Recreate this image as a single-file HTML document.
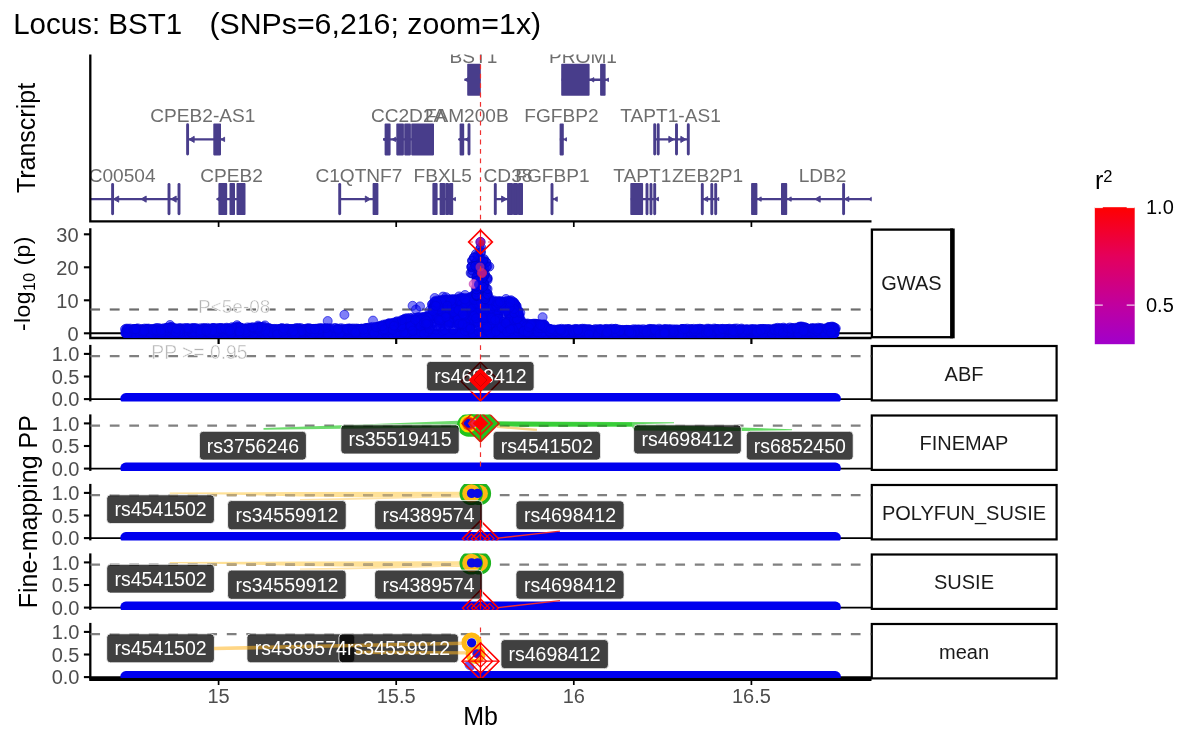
<!DOCTYPE html>
<html lang="en"><head><meta charset="utf-8"><title>Locus: BST1</title>
<style>html,body{margin:0;padding:0;background:#fff}svg{display:block;will-change:transform}text{font-family:"Liberation Sans",Arial,Helvetica,sans-serif}.tk{fill:#4d4d4d;font-size:20px}.at{fill:#000;font-size:25px}.st{fill:#1a1a1a;font-size:20px;text-anchor:middle}.gl{fill:#6e6e6e;font-size:19.1px;text-anchor:middle}.rl{fill:#fff;font-size:19.5px;text-anchor:middle}.an{fill:#b4b4b4;font-size:19px;stroke:#fff;stroke-width:.5px;paint-order:fill stroke}</style></head><body>
<svg width="1200" height="742" viewBox="0 0 1200 742">
<rect width="1200" height="742" fill="#fff"/>
<defs>
<clipPath id="cT"><rect x="90.3" y="54.5" width="781.2" height="167"/></clipPath>
<clipPath id="cG"><rect x="90.3" y="228" width="781.2" height="110.05"/></clipPath>
<linearGradient id="lg" x1="0" y1="0" x2="0" y2="1"><stop offset="0" stop-color="#ff0000"/><stop offset="0.36" stop-color="#e4005c"/><stop offset="0.715" stop-color="#c0009f"/><stop offset="1" stop-color="#a100cb"/></linearGradient>
</defs>
<text x="13.2" y="34.2" font-size="29.5" fill="#000" xml:space="preserve">Locus: BST1</text><text x="209.4" y="34.2" font-size="30.3" fill="#000">(SNPs=6,216; zoom=1x)</text>
<text class="at" transform="translate(34.5,138) rotate(-90)" text-anchor="middle">Transcript</text>
<text class="at" transform="translate(29.6,283.6) rotate(-90)" text-anchor="middle" style="font-size:22.9px;letter-spacing:.45px">-log<tspan font-size="16" dy="5.6">10</tspan><tspan dy="-5.6"> (p)</tspan></text>
<text class="at" transform="translate(37.3,511.7) rotate(-90)" text-anchor="middle">Fine-mapping PP</text>
<text class="at" x="480.5" y="724.5" text-anchor="middle">Mb</text>
<g clip-path="url(#cT)"><path d="M60.0 199.1H179.0" stroke="#483d8b" stroke-width="2.4" fill="none"/><path d="M112.6 184.5V213.7" stroke="#483d8b" stroke-width="2.9" stroke-linecap="round"/><path d="M169.0 184.5V213.7" stroke="#483d8b" stroke-width="2.9" stroke-linecap="round"/><path d="M179.0 184.5V213.7" stroke="#483d8b" stroke-width="2.9" stroke-linecap="round"/><path d="M118.7 196.0L113.5 199.1L118.7 202.2Z" fill="#483d8b" stroke="#483d8b" stroke-width="0.9" stroke-linejoin="round"/><path d="M146.2 196.0L141.0 199.1L146.2 202.2Z" fill="#483d8b" stroke="#483d8b" stroke-width="0.9" stroke-linejoin="round"/><path d="M176.2 196.0L171.0 199.1L176.2 202.2Z" fill="#483d8b" stroke="#483d8b" stroke-width="0.9" stroke-linejoin="round"/><text class="gl" x="107.3" y="181.8">LINC00504</text><path d="M217.6 199.1H244.4" stroke="#483d8b" stroke-width="2.4" fill="none"/><rect x="219.2" y="183.9" width="7.2" height="30.4" fill="#483d8b" stroke="#483d8b" stroke-width="1.6" stroke-linejoin="round"/><rect x="230.3" y="183.9" width="3.9" height="30.4" fill="#483d8b" stroke="#483d8b" stroke-width="1.6" stroke-linejoin="round"/><rect x="237.3" y="183.9" width="7.4" height="30.4" fill="#483d8b" stroke="#483d8b" stroke-width="1.6" stroke-linejoin="round"/><path d="M220.0 196.9L216.4 199.1L220.0 201.3Z" fill="#483d8b" stroke="#483d8b" stroke-width="0.9" stroke-linejoin="round"/><text class="gl" x="231.6" y="181.8">CPEB2</text><path d="M339.7 199.1H378.0" stroke="#483d8b" stroke-width="2.4" fill="none"/><path d="M339.7 184.5V213.7" stroke="#483d8b" stroke-width="2.9" stroke-linecap="round"/><rect x="373.4" y="183.9" width="4.2" height="30.4" fill="#483d8b" stroke="#483d8b" stroke-width="1.6" stroke-linejoin="round"/><path d="M365.3 196.0L370.5 199.1L365.3 202.2Z" fill="#483d8b" stroke="#483d8b" stroke-width="0.9" stroke-linejoin="round"/><text class="gl" x="358.9" y="181.8">C1QTNF7</text><path d="M433.0 199.1H453.6" stroke="#483d8b" stroke-width="2.4" fill="none"/><rect x="433.2" y="183.9" width="3.6" height="30.4" fill="#483d8b" stroke="#483d8b" stroke-width="1.6" stroke-linejoin="round"/><rect x="440.4" y="183.9" width="4.0" height="30.4" fill="#483d8b" stroke="#483d8b" stroke-width="1.6" stroke-linejoin="round"/><rect x="446.0" y="183.9" width="2.2" height="30.4" fill="#483d8b" stroke="#483d8b" stroke-width="1.6" stroke-linejoin="round"/><rect x="449.8" y="183.9" width="2.6" height="30.4" fill="#483d8b" stroke="#483d8b" stroke-width="1.6" stroke-linejoin="round"/><path d="M455.5 197.4L452.6 199.1L455.5 200.8Z" fill="#483d8b" stroke="#483d8b" stroke-width="0.9" stroke-linejoin="round"/><text class="gl" x="442.8" y="181.8">FBXL5</text><path d="M495.0 199.1H522.7" stroke="#483d8b" stroke-width="2.4" fill="none"/><path d="M495.3 184.5V213.7" stroke="#483d8b" stroke-width="2.9" stroke-linecap="round"/><rect x="507.9" y="183.9" width="4.3" height="30.4" fill="#483d8b" stroke="#483d8b" stroke-width="1.6" stroke-linejoin="round"/><rect x="513.8" y="183.9" width="3.4" height="30.4" fill="#483d8b" stroke="#483d8b" stroke-width="1.6" stroke-linejoin="round"/><rect x="518.8" y="183.9" width="3.4" height="30.4" fill="#483d8b" stroke="#483d8b" stroke-width="1.6" stroke-linejoin="round"/><path d="M501.6 196.0L506.8 199.1L501.6 202.2Z" fill="#483d8b" stroke="#483d8b" stroke-width="0.9" stroke-linejoin="round"/><text class="gl" x="508.0" y="181.8">CD38</text><path d="M551.5 199.1H554.0" stroke="#483d8b" stroke-width="2.4" fill="none"/><path d="M552.0 184.5V213.7" stroke="#483d8b" stroke-width="2.9" stroke-linecap="round"/><path d="M557.3 196.8L553.4 199.1L557.3 201.4Z" fill="#483d8b" stroke="#483d8b" stroke-width="0.9" stroke-linejoin="round"/><text class="gl" x="552.5" y="181.8">FGFBP1</text><path d="M630.7 199.1H655.5" stroke="#483d8b" stroke-width="2.4" fill="none"/><rect x="631.1" y="183.9" width="11.2" height="30.4" fill="#483d8b" stroke="#483d8b" stroke-width="1.6" stroke-linejoin="round"/><path d="M647.0 184.5V213.7" stroke="#483d8b" stroke-width="2.9" stroke-linecap="round"/><path d="M651.0 184.5V213.7" stroke="#483d8b" stroke-width="2.9" stroke-linecap="round"/><path d="M654.7 184.5V213.7" stroke="#483d8b" stroke-width="2.9" stroke-linecap="round"/><path d="M651.6 197.2L648.5 199.1L651.6 201.0Z" fill="#483d8b" stroke="#483d8b" stroke-width="0.9" stroke-linejoin="round"/><path d="M658.5 197.2L655.4 199.1L658.5 201.0Z" fill="#483d8b" stroke="#483d8b" stroke-width="0.9" stroke-linejoin="round"/><text class="gl" x="642.3" y="181.8">TAPT1</text><path d="M702.3 199.1H716.5" stroke="#483d8b" stroke-width="2.4" fill="none"/><path d="M702.3 184.5V213.7" stroke="#483d8b" stroke-width="2.9" stroke-linecap="round"/><path d="M711.8 184.5V213.7" stroke="#483d8b" stroke-width="2.9" stroke-linecap="round"/><path d="M715.7 184.5V213.7" stroke="#483d8b" stroke-width="2.9" stroke-linecap="round"/><path d="M707.7 196.6L703.5 199.1L707.7 201.6Z" fill="#483d8b" stroke="#483d8b" stroke-width="0.9" stroke-linejoin="round"/><path d="M718.8 197.5L716.2 199.1L718.8 200.7Z" fill="#483d8b" stroke="#483d8b" stroke-width="0.9" stroke-linejoin="round"/><text class="gl" x="707.6" y="181.8">ZEB2P1</text><path d="M751.5 199.1H900.0" stroke="#483d8b" stroke-width="2.4" fill="none"/><rect x="751.9" y="183.9" width="4.7" height="30.4" fill="#483d8b" stroke="#483d8b" stroke-width="1.6" stroke-linejoin="round"/><rect x="781.8" y="183.9" width="4.6" height="30.4" fill="#483d8b" stroke="#483d8b" stroke-width="1.6" stroke-linejoin="round"/><path d="M843.6 184.5V213.7" stroke="#483d8b" stroke-width="2.9" stroke-linecap="round"/><path d="M761.2 196.9L757.6 199.1L761.2 201.3Z" fill="#483d8b" stroke="#483d8b" stroke-width="0.9" stroke-linejoin="round"/><path d="M791.2 196.9L787.6 199.1L791.2 201.3Z" fill="#483d8b" stroke="#483d8b" stroke-width="0.9" stroke-linejoin="round"/><path d="M820.2 196.0L815.0 199.1L820.2 202.2Z" fill="#483d8b" stroke="#483d8b" stroke-width="0.9" stroke-linejoin="round"/><path d="M848.8 196.6L844.6 199.1L848.8 201.6Z" fill="#483d8b" stroke="#483d8b" stroke-width="0.9" stroke-linejoin="round"/><path d="M872.2 196.9L868.6 199.1L872.2 201.3Z" fill="#483d8b" stroke="#483d8b" stroke-width="0.9" stroke-linejoin="round"/><text class="gl" x="822.6" y="181.8">LDB2</text><path d="M187.6 139.4H222.0" stroke="#483d8b" stroke-width="2.4" fill="none"/><path d="M187.6 124.8V154.0" stroke="#483d8b" stroke-width="2.9" stroke-linecap="round"/><rect x="214.1" y="124.2" width="6.1" height="30.4" fill="#483d8b" stroke="#483d8b" stroke-width="1.6" stroke-linejoin="round"/><path d="M194.2 136.3L189.0 139.4L194.2 142.5Z" fill="#483d8b" stroke="#483d8b" stroke-width="0.9" stroke-linejoin="round"/><path d="M224.6 137.2L221.0 139.4L224.6 141.6Z" fill="#483d8b" stroke="#483d8b" stroke-width="0.9" stroke-linejoin="round"/><text class="gl" x="202.8" y="122.1">CPEB2-AS1</text><path d="M383.0 139.4H433.6" stroke="#483d8b" stroke-width="2.4" fill="none"/><rect x="385.4" y="124.2" width="4.4" height="30.4" fill="#483d8b" stroke="#483d8b" stroke-width="1.6" stroke-linejoin="round"/><rect x="397.1" y="124.2" width="6.0" height="30.4" fill="#483d8b" stroke="#483d8b" stroke-width="1.6" stroke-linejoin="round"/><rect x="405.0" y="124.2" width="5.1" height="30.4" fill="#483d8b" stroke="#483d8b" stroke-width="1.6" stroke-linejoin="round"/><rect x="412.0" y="124.2" width="21.2" height="30.4" fill="#483d8b" stroke="#483d8b" stroke-width="1.6" stroke-linejoin="round"/><path d="M386.6 137.2L383.0 139.4L386.6 141.6Z" fill="#483d8b" stroke="#483d8b" stroke-width="0.9" stroke-linejoin="round"/><path d="M395.6 137.2L392.0 139.4L395.6 141.6Z" fill="#483d8b" stroke="#483d8b" stroke-width="0.9" stroke-linejoin="round"/><text class="gl" x="408.6" y="122.1">CC2D2A</text><path d="M458.5 139.4H469.0" stroke="#483d8b" stroke-width="2.4" fill="none"/><rect x="460.4" y="124.2" width="3.0" height="30.4" fill="#483d8b" stroke="#483d8b" stroke-width="1.6" stroke-linejoin="round"/><path d="M469.0 124.8V154.0" stroke="#483d8b" stroke-width="2.9" stroke-linecap="round"/><path d="M462.0 137.2L458.4 139.4L462.0 141.6Z" fill="#483d8b" stroke="#483d8b" stroke-width="0.9" stroke-linejoin="round"/><path d="M469.2 136.9L465.0 139.4L469.2 141.9Z" fill="#483d8b" stroke="#483d8b" stroke-width="0.9" stroke-linejoin="round"/><text class="gl" x="466.8" y="122.1">FAM200B</text><path d="M559.8 139.4H564.0" stroke="#483d8b" stroke-width="2.4" fill="none"/><rect x="560.4" y="124.2" width="2.6" height="30.4" fill="#483d8b" stroke="#483d8b" stroke-width="1.6" stroke-linejoin="round"/><path d="M566.5 137.7L563.6 139.4L566.5 141.1Z" fill="#483d8b" stroke="#483d8b" stroke-width="0.9" stroke-linejoin="round"/><text class="gl" x="561.5" y="122.1">FGFBP2</text><path d="M654.7 139.4H688.3" stroke="#483d8b" stroke-width="2.4" fill="none"/><path d="M654.7 124.8V154.0" stroke="#483d8b" stroke-width="2.9" stroke-linecap="round"/><path d="M658.2 124.8V154.0" stroke="#483d8b" stroke-width="2.9" stroke-linecap="round"/><path d="M676.5 124.8V154.0" stroke="#483d8b" stroke-width="2.9" stroke-linecap="round"/><path d="M688.3 124.8V154.0" stroke="#483d8b" stroke-width="2.9" stroke-linecap="round"/><path d="M668.8 136.3L674.0 139.4L668.8 142.5Z" fill="#483d8b" stroke="#483d8b" stroke-width="0.9" stroke-linejoin="round"/><path d="M680.8 136.3L686.0 139.4L680.8 142.5Z" fill="#483d8b" stroke="#483d8b" stroke-width="0.9" stroke-linejoin="round"/><text class="gl" x="670.6" y="122.1">TAPT1-AS1</text><path d="M464.5 79.8H480.4" stroke="#483d8b" stroke-width="2.4" fill="none"/><rect x="468.0" y="64.6" width="12.0" height="30.4" fill="#483d8b" stroke="#483d8b" stroke-width="1.6" stroke-linejoin="round"/><path d="M468.2 77.6L464.6 79.8L468.2 82.0Z" fill="#483d8b" stroke="#483d8b" stroke-width="0.9" stroke-linejoin="round"/><text class="gl" x="473.5" y="62.5">BST1</text><path d="M561.6 79.8H606.5" stroke="#483d8b" stroke-width="2.4" fill="none"/><rect x="562.0" y="64.6" width="26.8" height="30.4" fill="#483d8b" stroke="#483d8b" stroke-width="1.6" stroke-linejoin="round"/><rect x="600.9" y="64.6" width="3.9" height="30.4" fill="#483d8b" stroke="#483d8b" stroke-width="1.6" stroke-linejoin="round"/><path d="M593.8 77.6L590.2 79.8L593.8 82.0Z" fill="#483d8b" stroke="#483d8b" stroke-width="0.9" stroke-linejoin="round"/><path d="M608.5 78.1L605.6 79.8L608.5 81.5Z" fill="#483d8b" stroke="#483d8b" stroke-width="0.9" stroke-linejoin="round"/><text class="gl" x="583.0" y="62.5">PROM1</text></g>
<path d="M90.3 54.5V222.5M89.2 221.4H871.5" stroke="#000" stroke-width="2.3" fill="none"/>
<path d="M218.6 221.5v5.6M396.2 221.5v5.6M573.8 221.5v5.6M751.4 221.5v5.6" stroke="#000" stroke-width="1.7"/>
<path d="M90.3 228.2V339.1M89.2 338H871.5" stroke="#000" stroke-width="2.3" fill="none"/>
<path d="M218.6 338.5v5.4M396.2 338.5v5.4M573.8 338.5v5.4M751.4 338.5v5.4" stroke="#000" stroke-width="2.2"/>
<g clip-path="url(#cG)">
<path d="M90.3 333.3H871.5" stroke="#000" stroke-width="2"/>
<path d="M90.3 309.5H871.5" stroke="#808080" stroke-width="2.2" stroke-dasharray="9.75 9.75"/>
<path d="M126 333.5H835" stroke="#0000ee" stroke-width="9" stroke-linecap="round"/>
<g fill="#0000f0" fill-opacity=".5" stroke="#0000e0" stroke-opacity=".6" stroke-width="1"><circle cx="416.0" cy="309.5" r="4.5"/><circle cx="691.2" cy="330.7" r="4.5"/><circle cx="707.3" cy="331.7" r="4.5"/><circle cx="534.2" cy="324.7" r="4.5"/><circle cx="449.4" cy="302.4" r="4.5"/><circle cx="378.4" cy="326.6" r="4.5"/><circle cx="321.4" cy="332.7" r="4.5"/><circle cx="814.2" cy="330.5" r="4.5"/><circle cx="379.4" cy="330.3" r="4.5"/><circle cx="432.3" cy="329.3" r="4.5"/><circle cx="460.1" cy="304.8" r="4.5"/><circle cx="444.8" cy="314.3" r="4.5"/><circle cx="257.1" cy="327.8" r="4.5"/><circle cx="500.3" cy="326.6" r="4.5"/><circle cx="483.3" cy="301.7" r="4.5"/><circle cx="327.8" cy="331.7" r="4.5"/><circle cx="492.3" cy="301.4" r="4.5"/><circle cx="360.8" cy="329.7" r="4.5"/><circle cx="437.1" cy="312.3" r="4.5"/><circle cx="244.5" cy="332.5" r="4.5"/><circle cx="510.0" cy="307.9" r="4.5"/><circle cx="284.5" cy="328.9" r="4.5"/><circle cx="433.9" cy="315.7" r="4.5"/><circle cx="437.8" cy="305.4" r="4.5"/><circle cx="638.4" cy="334.2" r="4.5"/><circle cx="769.5" cy="329.2" r="4.5"/><circle cx="146.8" cy="330.5" r="4.5"/><circle cx="665.7" cy="329.0" r="4.5"/><circle cx="362.2" cy="329.3" r="4.5"/><circle cx="501.7" cy="302.9" r="4.5"/><circle cx="488.3" cy="307.4" r="4.5"/><circle cx="523.9" cy="325.3" r="4.5"/><circle cx="734.9" cy="328.6" r="4.5"/><circle cx="805.2" cy="327.3" r="4.5"/><circle cx="597.1" cy="329.4" r="4.5"/><circle cx="463.0" cy="300.7" r="4.5"/><circle cx="417.8" cy="317.9" r="4.5"/><circle cx="622.8" cy="330.2" r="4.5"/><circle cx="526.5" cy="327.0" r="4.5"/><circle cx="460.0" cy="305.8" r="4.5"/><circle cx="500.1" cy="320.2" r="4.5"/><circle cx="452.0" cy="302.7" r="4.5"/><circle cx="540.9" cy="325.2" r="4.5"/><circle cx="506.9" cy="300.9" r="4.5"/><circle cx="349.3" cy="329.1" r="4.5"/><circle cx="455.0" cy="303.1" r="4.5"/><circle cx="518.9" cy="315.1" r="4.5"/><circle cx="526.6" cy="324.0" r="4.5"/><circle cx="828.8" cy="327.8" r="4.5"/><circle cx="462.3" cy="322.2" r="4.5"/><circle cx="618.3" cy="332.5" r="4.5"/><circle cx="291.3" cy="329.1" r="4.5"/><circle cx="385.4" cy="329.7" r="4.5"/><circle cx="835.8" cy="328.3" r="4.5"/><circle cx="452.1" cy="317.3" r="4.5"/><circle cx="539.5" cy="329.7" r="4.5"/><circle cx="574.2" cy="333.5" r="4.5"/><circle cx="462.9" cy="319.0" r="4.5"/><circle cx="479.3" cy="324.7" r="4.5"/><circle cx="702.4" cy="331.5" r="4.5"/><circle cx="278.4" cy="332.4" r="4.5"/><circle cx="575.6" cy="330.7" r="4.5"/><circle cx="166.4" cy="327.8" r="4.5"/><circle cx="370.5" cy="329.1" r="4.5"/><circle cx="444.3" cy="317.1" r="4.5"/><circle cx="770.0" cy="330.6" r="4.5"/><circle cx="476.8" cy="322.4" r="4.5"/><circle cx="492.2" cy="323.0" r="4.5"/><circle cx="600.9" cy="331.3" r="4.5"/><circle cx="399.3" cy="331.8" r="4.5"/><circle cx="200.4" cy="328.2" r="4.5"/><circle cx="472.8" cy="316.6" r="4.5"/><circle cx="629.6" cy="331.0" r="4.5"/><circle cx="714.6" cy="330.6" r="4.5"/><circle cx="404.4" cy="319.3" r="4.5"/><circle cx="530.8" cy="330.4" r="4.5"/><circle cx="651.5" cy="329.1" r="4.5"/><circle cx="207.4" cy="327.9" r="4.5"/><circle cx="505.3" cy="302.0" r="4.5"/><circle cx="557.1" cy="330.5" r="4.5"/><circle cx="518.5" cy="314.3" r="4.5"/><circle cx="570.1" cy="333.5" r="4.5"/><circle cx="197.7" cy="329.0" r="4.5"/><circle cx="611.8" cy="331.9" r="4.5"/><circle cx="523.5" cy="328.4" r="4.5"/><circle cx="515.7" cy="304.8" r="4.5"/><circle cx="512.5" cy="323.7" r="4.5"/><circle cx="467.9" cy="331.7" r="4.5"/><circle cx="480.8" cy="329.1" r="4.5"/><circle cx="538.5" cy="324.2" r="4.5"/><circle cx="640.3" cy="332.2" r="4.5"/><circle cx="504.1" cy="328.0" r="4.5"/><circle cx="616.1" cy="334.8" r="4.5"/><circle cx="541.4" cy="329.7" r="4.5"/><circle cx="767.2" cy="333.8" r="4.5"/><circle cx="813.6" cy="329.1" r="4.5"/><circle cx="212.0" cy="330.2" r="4.5"/><circle cx="493.5" cy="313.8" r="4.5"/><circle cx="477.9" cy="297.3" r="4.5"/><circle cx="367.8" cy="327.8" r="4.5"/><circle cx="717.5" cy="329.3" r="4.5"/><circle cx="622.8" cy="332.3" r="4.5"/><circle cx="494.8" cy="304.4" r="4.5"/><circle cx="676.0" cy="333.4" r="4.5"/><circle cx="280.1" cy="330.1" r="4.5"/><circle cx="812.1" cy="328.1" r="4.5"/><circle cx="598.8" cy="334.2" r="4.5"/><circle cx="550.3" cy="333.3" r="4.5"/><circle cx="419.5" cy="317.3" r="4.5"/><circle cx="678.3" cy="331.6" r="4.5"/><circle cx="168.1" cy="329.0" r="4.5"/><circle cx="812.2" cy="328.8" r="4.5"/><circle cx="475.4" cy="307.1" r="4.5"/><circle cx="595.4" cy="331.0" r="4.5"/><circle cx="700.5" cy="332.0" r="4.5"/><circle cx="810.7" cy="330.5" r="4.5"/><circle cx="487.3" cy="319.5" r="4.5"/><circle cx="223.4" cy="328.9" r="4.5"/><circle cx="550.8" cy="330.0" r="4.5"/><circle cx="485.9" cy="327.8" r="4.5"/><circle cx="434.7" cy="307.6" r="4.5"/><circle cx="436.7" cy="306.2" r="4.5"/><circle cx="348.0" cy="330.0" r="4.5"/><circle cx="410.5" cy="321.5" r="4.5"/><circle cx="641.7" cy="331.6" r="4.5"/><circle cx="800.0" cy="332.0" r="4.5"/><circle cx="536.4" cy="324.1" r="4.5"/><circle cx="515.9" cy="307.6" r="4.5"/><circle cx="446.2" cy="299.3" r="4.5"/><circle cx="436.3" cy="306.5" r="4.5"/><circle cx="238.2" cy="330.7" r="4.5"/><circle cx="802.4" cy="332.7" r="4.5"/><circle cx="662.2" cy="330.0" r="4.5"/><circle cx="500.2" cy="311.0" r="4.5"/><circle cx="547.6" cy="330.3" r="4.5"/><circle cx="492.3" cy="313.2" r="4.5"/><circle cx="599.8" cy="330.7" r="4.5"/><circle cx="217.2" cy="333.0" r="4.5"/><circle cx="274.6" cy="328.9" r="4.5"/><circle cx="409.2" cy="321.5" r="4.5"/><circle cx="437.4" cy="326.2" r="4.5"/><circle cx="302.2" cy="331.3" r="4.5"/><circle cx="281.7" cy="331.7" r="4.5"/><circle cx="151.6" cy="329.5" r="4.5"/><circle cx="383.7" cy="326.2" r="4.5"/><circle cx="176.7" cy="329.9" r="4.5"/><circle cx="329.0" cy="329.3" r="4.5"/><circle cx="325.6" cy="331.3" r="4.5"/><circle cx="494.9" cy="316.7" r="4.5"/><circle cx="460.2" cy="310.9" r="4.5"/><circle cx="443.0" cy="296.6" r="4.5"/><circle cx="280.2" cy="330.7" r="4.5"/><circle cx="189.8" cy="331.7" r="4.5"/><circle cx="448.9" cy="320.9" r="4.5"/><circle cx="803.2" cy="329.5" r="4.5"/><circle cx="433.2" cy="317.1" r="4.5"/><circle cx="287.3" cy="330.6" r="4.5"/><circle cx="194.7" cy="330.2" r="4.5"/><circle cx="286.6" cy="330.4" r="4.5"/><circle cx="466.8" cy="298.1" r="4.5"/><circle cx="603.8" cy="332.2" r="4.5"/><circle cx="128.7" cy="332.5" r="4.5"/><circle cx="192.1" cy="328.8" r="4.5"/><circle cx="579.5" cy="334.3" r="4.5"/><circle cx="828.7" cy="328.1" r="4.5"/><circle cx="634.7" cy="331.3" r="4.5"/><circle cx="427.1" cy="325.0" r="4.5"/><circle cx="642.8" cy="332.8" r="4.5"/><circle cx="704.5" cy="333.3" r="4.5"/><circle cx="216.1" cy="328.5" r="4.5"/><circle cx="682.4" cy="329.1" r="4.5"/><circle cx="449.7" cy="317.3" r="4.5"/><circle cx="783.7" cy="330.0" r="4.5"/><circle cx="502.6" cy="328.3" r="4.5"/><circle cx="257.1" cy="330.7" r="4.5"/><circle cx="313.2" cy="328.9" r="4.5"/><circle cx="389.5" cy="326.6" r="4.5"/><circle cx="647.9" cy="332.3" r="4.5"/><circle cx="212.3" cy="329.8" r="4.5"/><circle cx="433.9" cy="318.1" r="4.5"/><circle cx="319.7" cy="329.8" r="4.5"/><circle cx="432.3" cy="314.4" r="4.5"/><circle cx="126.6" cy="329.6" r="4.5"/><circle cx="239.9" cy="328.9" r="4.5"/><circle cx="516.8" cy="316.8" r="4.5"/><circle cx="365.5" cy="329.4" r="4.5"/><circle cx="210.6" cy="330.7" r="4.5"/><circle cx="260.7" cy="327.5" r="4.5"/><circle cx="511.1" cy="303.1" r="4.5"/><circle cx="203.6" cy="332.3" r="4.5"/><circle cx="233.1" cy="329.3" r="4.5"/><circle cx="399.4" cy="321.4" r="4.5"/><circle cx="316.2" cy="333.3" r="4.5"/><circle cx="665.0" cy="329.6" r="4.5"/><circle cx="751.0" cy="330.0" r="4.5"/><circle cx="272.2" cy="329.1" r="4.5"/><circle cx="483.4" cy="302.6" r="4.5"/><circle cx="525.4" cy="328.2" r="4.5"/><circle cx="476.1" cy="299.2" r="4.5"/><circle cx="471.9" cy="332.6" r="4.5"/><circle cx="604.5" cy="331.2" r="4.5"/><circle cx="247.9" cy="328.9" r="4.5"/><circle cx="750.1" cy="334.2" r="4.5"/><circle cx="406.5" cy="320.0" r="4.5"/><circle cx="181.3" cy="328.4" r="4.5"/><circle cx="834.6" cy="329.2" r="4.5"/><circle cx="816.8" cy="330.0" r="4.5"/><circle cx="492.9" cy="307.2" r="4.5"/><circle cx="722.2" cy="329.4" r="4.5"/><circle cx="179.9" cy="328.6" r="4.5"/><circle cx="270.2" cy="328.6" r="4.5"/><circle cx="235.8" cy="331.9" r="4.5"/><circle cx="510.4" cy="308.9" r="4.5"/><circle cx="375.5" cy="327.4" r="4.5"/><circle cx="480.5" cy="295.9" r="4.5"/><circle cx="536.9" cy="328.2" r="4.5"/><circle cx="780.3" cy="328.6" r="4.5"/><circle cx="531.2" cy="333.6" r="4.5"/><circle cx="687.2" cy="330.3" r="4.5"/><circle cx="450.2" cy="315.6" r="4.5"/><circle cx="423.9" cy="319.8" r="4.5"/><circle cx="773.8" cy="331.2" r="4.5"/><circle cx="263.5" cy="326.6" r="4.5"/><circle cx="311.5" cy="330.6" r="4.5"/><circle cx="361.7" cy="329.9" r="4.5"/><circle cx="310.4" cy="328.6" r="4.5"/><circle cx="189.6" cy="332.3" r="4.5"/><circle cx="187.7" cy="328.5" r="4.5"/><circle cx="676.9" cy="331.9" r="4.5"/><circle cx="674.5" cy="330.5" r="4.5"/><circle cx="518.4" cy="312.5" r="4.5"/><circle cx="224.9" cy="332.7" r="4.5"/><circle cx="235.5" cy="327.2" r="4.5"/><circle cx="412.0" cy="319.6" r="4.5"/><circle cx="812.1" cy="332.6" r="4.5"/><circle cx="577.7" cy="333.4" r="4.5"/><circle cx="732.3" cy="329.4" r="4.5"/><circle cx="503.4" cy="313.6" r="4.5"/><circle cx="771.9" cy="330.4" r="4.5"/><circle cx="634.6" cy="333.9" r="4.5"/><circle cx="553.0" cy="330.6" r="4.5"/><circle cx="609.6" cy="329.0" r="4.5"/><circle cx="509.0" cy="320.0" r="4.5"/><circle cx="146.8" cy="329.0" r="4.5"/><circle cx="497.9" cy="314.1" r="4.5"/><circle cx="540.9" cy="328.7" r="4.5"/><circle cx="425.4" cy="317.4" r="4.5"/><circle cx="515.4" cy="312.2" r="4.5"/><circle cx="824.7" cy="333.0" r="4.5"/><circle cx="201.0" cy="332.1" r="4.5"/><circle cx="318.8" cy="330.0" r="4.5"/><circle cx="484.6" cy="316.4" r="4.5"/><circle cx="506.9" cy="302.5" r="4.5"/><circle cx="442.5" cy="324.3" r="4.5"/><circle cx="452.1" cy="306.2" r="4.5"/><circle cx="125.8" cy="331.4" r="4.5"/><circle cx="709.4" cy="331.9" r="4.5"/><circle cx="203.3" cy="328.0" r="4.5"/><circle cx="510.4" cy="323.0" r="4.5"/><circle cx="432.4" cy="304.0" r="4.5"/><circle cx="428.6" cy="317.3" r="4.5"/><circle cx="716.0" cy="330.4" r="4.5"/><circle cx="810.6" cy="328.8" r="4.5"/><circle cx="447.5" cy="305.9" r="4.5"/><circle cx="386.4" cy="327.9" r="4.5"/><circle cx="519.5" cy="317.1" r="4.5"/><circle cx="594.1" cy="331.5" r="4.5"/><circle cx="337.6" cy="332.1" r="4.5"/><circle cx="783.6" cy="332.0" r="4.5"/><circle cx="696.2" cy="332.8" r="4.5"/><circle cx="784.7" cy="330.5" r="4.5"/><circle cx="559.8" cy="330.7" r="4.5"/><circle cx="340.7" cy="328.2" r="4.5"/><circle cx="325.2" cy="330.1" r="4.5"/><circle cx="157.3" cy="333.0" r="4.5"/><circle cx="445.1" cy="324.1" r="4.5"/><circle cx="230.9" cy="332.4" r="4.5"/><circle cx="537.4" cy="324.5" r="4.5"/><circle cx="495.1" cy="305.7" r="4.5"/><circle cx="213.1" cy="330.3" r="4.5"/><circle cx="432.8" cy="309.3" r="4.5"/><circle cx="318.2" cy="328.6" r="4.5"/><circle cx="538.4" cy="325.5" r="4.5"/><circle cx="209.1" cy="331.6" r="4.5"/><circle cx="829.3" cy="332.8" r="4.5"/><circle cx="646.5" cy="331.0" r="4.5"/><circle cx="264.9" cy="331.4" r="4.5"/><circle cx="603.5" cy="333.6" r="4.5"/><circle cx="414.4" cy="325.9" r="4.5"/><circle cx="338.4" cy="330.8" r="4.5"/><circle cx="465.7" cy="301.6" r="4.5"/><circle cx="543.3" cy="324.9" r="4.5"/><circle cx="462.5" cy="307.5" r="4.5"/><circle cx="565.2" cy="332.5" r="4.5"/><circle cx="575.8" cy="328.9" r="4.5"/><circle cx="203.5" cy="334.0" r="4.5"/><circle cx="232.3" cy="328.7" r="4.5"/><circle cx="762.1" cy="329.5" r="4.5"/><circle cx="451.6" cy="310.5" r="4.5"/><circle cx="453.3" cy="320.3" r="4.5"/><circle cx="267.9" cy="329.6" r="4.5"/><circle cx="480.9" cy="295.2" r="4.5"/><circle cx="171.5" cy="333.0" r="4.5"/><circle cx="494.6" cy="320.2" r="4.5"/><circle cx="521.7" cy="322.0" r="4.5"/><circle cx="473.1" cy="312.7" r="4.5"/><circle cx="381.3" cy="330.5" r="4.5"/><circle cx="646.0" cy="330.1" r="4.5"/><circle cx="645.9" cy="329.9" r="4.5"/><circle cx="583.2" cy="331.5" r="4.5"/><circle cx="675.4" cy="330.1" r="4.5"/><circle cx="815.3" cy="328.3" r="4.5"/><circle cx="439.3" cy="308.1" r="4.5"/><circle cx="371.9" cy="332.5" r="4.5"/><circle cx="564.1" cy="329.8" r="4.5"/><circle cx="467.6" cy="303.8" r="4.5"/><circle cx="471.5" cy="296.5" r="4.5"/><circle cx="473.7" cy="314.3" r="4.5"/><circle cx="356.3" cy="328.4" r="4.5"/><circle cx="794.9" cy="331.7" r="4.5"/><circle cx="426.2" cy="325.8" r="4.5"/><circle cx="207.2" cy="332.6" r="4.5"/><circle cx="216.7" cy="330.8" r="4.5"/><circle cx="668.6" cy="331.4" r="4.5"/><circle cx="230.9" cy="334.3" r="4.5"/><circle cx="543.6" cy="328.4" r="4.5"/><circle cx="625.1" cy="329.9" r="4.5"/><circle cx="380.9" cy="329.4" r="4.5"/><circle cx="405.2" cy="318.5" r="4.5"/><circle cx="452.5" cy="306.1" r="4.5"/><circle cx="473.3" cy="308.2" r="4.5"/><circle cx="268.4" cy="331.2" r="4.5"/><circle cx="682.4" cy="329.0" r="4.5"/><circle cx="600.8" cy="331.9" r="4.5"/><circle cx="380.2" cy="326.1" r="4.5"/><circle cx="290.6" cy="331.7" r="4.5"/><circle cx="429.0" cy="323.8" r="4.5"/><circle cx="484.3" cy="307.3" r="4.5"/><circle cx="375.9" cy="329.7" r="4.5"/><circle cx="499.6" cy="308.6" r="4.5"/><circle cx="441.4" cy="306.6" r="4.5"/><circle cx="466.2" cy="310.9" r="4.5"/><circle cx="550.4" cy="329.9" r="4.5"/><circle cx="705.2" cy="330.6" r="4.5"/><circle cx="568.8" cy="329.2" r="4.5"/><circle cx="532.4" cy="326.1" r="4.5"/><circle cx="469.0" cy="325.4" r="4.5"/><circle cx="228.8" cy="331.7" r="4.5"/><circle cx="833.0" cy="331.0" r="4.5"/><circle cx="308.3" cy="332.1" r="4.5"/><circle cx="698.6" cy="331.0" r="4.5"/><circle cx="685.6" cy="329.7" r="4.5"/><circle cx="594.4" cy="333.5" r="4.5"/><circle cx="794.5" cy="327.9" r="4.5"/><circle cx="572.9" cy="329.6" r="4.5"/><circle cx="521.0" cy="328.0" r="4.5"/><circle cx="414.5" cy="330.2" r="4.5"/><circle cx="549.2" cy="331.2" r="4.5"/><circle cx="148.4" cy="332.6" r="4.5"/><circle cx="558.4" cy="329.5" r="4.5"/><circle cx="654.3" cy="331.0" r="4.5"/><circle cx="486.3" cy="294.6" r="4.5"/><circle cx="590.4" cy="331.6" r="4.5"/><circle cx="315.1" cy="331.0" r="4.5"/><circle cx="714.2" cy="332.8" r="4.5"/><circle cx="455.8" cy="320.5" r="4.5"/><circle cx="498.5" cy="308.0" r="4.5"/><circle cx="619.4" cy="330.9" r="4.5"/><circle cx="441.2" cy="301.1" r="4.5"/><circle cx="491.6" cy="316.5" r="4.5"/><circle cx="328.6" cy="334.2" r="4.5"/><circle cx="761.6" cy="330.2" r="4.5"/><circle cx="533.7" cy="334.3" r="4.5"/><circle cx="189.9" cy="329.3" r="4.5"/><circle cx="751.5" cy="331.4" r="4.5"/><circle cx="478.6" cy="300.9" r="4.5"/><circle cx="341.3" cy="329.8" r="4.5"/><circle cx="729.0" cy="331.0" r="4.5"/><circle cx="638.0" cy="330.3" r="4.5"/><circle cx="790.8" cy="332.9" r="4.5"/><circle cx="388.6" cy="323.4" r="4.5"/><circle cx="444.9" cy="299.7" r="4.5"/><circle cx="493.4" cy="319.1" r="4.5"/><circle cx="426.4" cy="331.4" r="4.5"/><circle cx="191.1" cy="331.2" r="4.5"/><circle cx="835.1" cy="329.7" r="4.5"/><circle cx="801.8" cy="327.0" r="4.5"/><circle cx="433.6" cy="305.0" r="4.5"/><circle cx="151.9" cy="330.3" r="4.5"/><circle cx="236.9" cy="331.7" r="4.5"/><circle cx="125.0" cy="329.2" r="4.5"/><circle cx="329.3" cy="328.2" r="4.5"/><circle cx="649.1" cy="333.7" r="4.5"/><circle cx="726.8" cy="329.3" r="4.5"/><circle cx="496.9" cy="325.3" r="4.5"/><circle cx="366.6" cy="328.5" r="4.5"/><circle cx="504.3" cy="302.1" r="4.5"/><circle cx="725.3" cy="329.3" r="4.5"/><circle cx="746.4" cy="329.0" r="4.5"/><circle cx="810.7" cy="333.3" r="4.5"/><circle cx="549.0" cy="329.1" r="4.5"/><circle cx="456.8" cy="304.4" r="4.5"/><circle cx="489.8" cy="300.4" r="4.5"/><circle cx="799.0" cy="328.8" r="4.5"/><circle cx="316.2" cy="328.8" r="4.5"/><circle cx="497.7" cy="315.8" r="4.5"/><circle cx="601.9" cy="332.7" r="4.5"/><circle cx="474.1" cy="306.7" r="4.5"/><circle cx="326.2" cy="329.7" r="4.5"/><circle cx="358.5" cy="328.9" r="4.5"/><circle cx="224.3" cy="331.7" r="4.5"/><circle cx="455.4" cy="316.3" r="4.5"/><circle cx="767.1" cy="329.2" r="4.5"/><circle cx="281.1" cy="330.6" r="4.5"/><circle cx="461.1" cy="298.6" r="4.5"/><circle cx="490.3" cy="318.3" r="4.5"/><circle cx="832.0" cy="326.5" r="4.5"/><circle cx="459.0" cy="296.4" r="4.5"/><circle cx="436.1" cy="329.7" r="4.5"/><circle cx="713.3" cy="332.0" r="4.5"/><circle cx="276.8" cy="328.9" r="4.5"/><circle cx="218.1" cy="334.8" r="4.5"/><circle cx="442.3" cy="322.6" r="4.5"/><circle cx="152.2" cy="333.9" r="4.5"/><circle cx="142.4" cy="333.7" r="4.5"/><circle cx="585.3" cy="330.1" r="4.5"/><circle cx="572.6" cy="329.8" r="4.5"/><circle cx="192.0" cy="329.8" r="4.5"/><circle cx="191.9" cy="330.1" r="4.5"/><circle cx="695.0" cy="333.0" r="4.5"/><circle cx="373.1" cy="333.8" r="4.5"/><circle cx="674.1" cy="331.2" r="4.5"/><circle cx="459.4" cy="298.6" r="4.5"/><circle cx="511.0" cy="300.2" r="4.5"/><circle cx="377.8" cy="331.5" r="4.5"/><circle cx="796.7" cy="328.5" r="4.5"/><circle cx="451.6" cy="304.4" r="4.5"/><circle cx="538.6" cy="327.5" r="4.5"/><circle cx="667.5" cy="329.5" r="4.5"/><circle cx="734.1" cy="331.8" r="4.5"/><circle cx="498.3" cy="301.0" r="4.5"/><circle cx="375.4" cy="331.0" r="4.5"/><circle cx="466.7" cy="311.2" r="4.5"/><circle cx="495.3" cy="322.7" r="4.5"/><circle cx="553.0" cy="330.5" r="4.5"/><circle cx="562.8" cy="332.9" r="4.5"/><circle cx="826.7" cy="329.6" r="4.5"/><circle cx="265.7" cy="329.0" r="4.5"/><circle cx="494.8" cy="305.8" r="4.5"/><circle cx="575.8" cy="331.6" r="4.5"/><circle cx="271.3" cy="330.2" r="4.5"/><circle cx="433.6" cy="322.9" r="4.5"/><circle cx="342.9" cy="328.6" r="4.5"/><circle cx="764.1" cy="329.4" r="4.5"/><circle cx="302.3" cy="334.3" r="4.5"/><circle cx="675.6" cy="332.0" r="4.5"/><circle cx="488.1" cy="322.0" r="4.5"/><circle cx="812.5" cy="328.8" r="4.5"/><circle cx="398.8" cy="324.9" r="4.5"/><circle cx="568.8" cy="331.6" r="4.5"/><circle cx="248.5" cy="329.5" r="4.5"/><circle cx="487.1" cy="312.9" r="4.5"/><circle cx="200.6" cy="330.9" r="4.5"/><circle cx="439.5" cy="322.7" r="4.5"/><circle cx="360.4" cy="329.9" r="4.5"/><circle cx="413.6" cy="327.9" r="4.5"/><circle cx="206.9" cy="331.4" r="4.5"/><circle cx="596.5" cy="332.3" r="4.5"/><circle cx="291.4" cy="330.9" r="4.5"/><circle cx="446.1" cy="302.5" r="4.5"/><circle cx="494.2" cy="303.0" r="4.5"/><circle cx="478.6" cy="326.1" r="4.5"/><circle cx="598.2" cy="331.3" r="4.5"/><circle cx="518.2" cy="328.4" r="4.5"/><circle cx="547.9" cy="330.3" r="4.5"/><circle cx="823.1" cy="332.4" r="4.5"/><circle cx="240.4" cy="327.5" r="4.5"/><circle cx="268.0" cy="329.3" r="4.5"/><circle cx="454.9" cy="313.6" r="4.5"/><circle cx="792.5" cy="328.3" r="4.5"/><circle cx="497.2" cy="307.4" r="4.5"/><circle cx="142.0" cy="329.2" r="4.5"/><circle cx="654.5" cy="331.4" r="4.5"/><circle cx="406.3" cy="319.9" r="4.5"/><circle cx="510.3" cy="331.3" r="4.5"/><circle cx="554.6" cy="329.6" r="4.5"/><circle cx="430.2" cy="328.2" r="4.5"/><circle cx="495.6" cy="302.3" r="4.5"/><circle cx="307.2" cy="328.4" r="4.5"/><circle cx="501.5" cy="301.7" r="4.5"/><circle cx="595.1" cy="332.2" r="4.5"/><circle cx="213.0" cy="328.2" r="4.5"/><circle cx="312.8" cy="329.2" r="4.5"/><circle cx="487.1" cy="319.4" r="4.5"/><circle cx="335.4" cy="329.9" r="4.5"/><circle cx="576.2" cy="330.1" r="4.5"/><circle cx="675.5" cy="330.8" r="4.5"/><circle cx="245.6" cy="331.1" r="4.5"/><circle cx="285.9" cy="329.9" r="4.5"/><circle cx="766.7" cy="331.0" r="4.5"/><circle cx="138.1" cy="331.2" r="4.5"/><circle cx="833.9" cy="329.5" r="4.5"/><circle cx="456.2" cy="306.8" r="4.5"/><circle cx="742.0" cy="333.6" r="4.5"/><circle cx="672.4" cy="332.7" r="4.5"/><circle cx="702.1" cy="329.3" r="4.5"/><circle cx="590.0" cy="330.1" r="4.5"/><circle cx="381.2" cy="327.5" r="4.5"/><circle cx="344.4" cy="314.8" r="4.5"/><circle cx="177.4" cy="328.7" r="4.5"/><circle cx="482.4" cy="302.3" r="4.5"/><circle cx="832.0" cy="327.2" r="4.5"/><circle cx="514.9" cy="317.4" r="4.5"/><circle cx="829.3" cy="328.5" r="4.5"/><circle cx="238.3" cy="326.5" r="4.5"/><circle cx="738.8" cy="332.6" r="4.5"/><circle cx="352.0" cy="328.7" r="4.5"/><circle cx="489.7" cy="316.9" r="4.5"/><circle cx="322.4" cy="330.0" r="4.5"/><circle cx="533.8" cy="323.6" r="4.5"/><circle cx="715.3" cy="330.4" r="4.5"/><circle cx="663.3" cy="329.6" r="4.5"/><circle cx="460.9" cy="302.1" r="4.5"/><circle cx="269.8" cy="334.9" r="4.5"/><circle cx="482.0" cy="310.6" r="4.5"/><circle cx="240.3" cy="327.7" r="4.5"/><circle cx="459.0" cy="302.7" r="4.5"/><circle cx="237.0" cy="330.7" r="4.5"/><circle cx="308.8" cy="328.2" r="4.5"/><circle cx="824.0" cy="328.5" r="4.5"/><circle cx="412.5" cy="317.7" r="4.5"/><circle cx="761.6" cy="333.1" r="4.5"/><circle cx="750.6" cy="332.1" r="4.5"/><circle cx="833.7" cy="327.1" r="4.5"/><circle cx="420.0" cy="306.4" r="4.5"/><circle cx="412.6" cy="305.8" r="4.5"/><circle cx="312.0" cy="329.9" r="4.5"/><circle cx="233.5" cy="330.1" r="4.5"/><circle cx="424.5" cy="326.5" r="4.5"/><circle cx="426.0" cy="317.0" r="4.5"/><circle cx="427.3" cy="325.3" r="4.5"/><circle cx="309.8" cy="330.2" r="4.5"/><circle cx="492.9" cy="320.6" r="4.5"/><circle cx="683.7" cy="332.9" r="4.5"/><circle cx="754.3" cy="330.9" r="4.5"/><circle cx="342.7" cy="331.3" r="4.5"/><circle cx="353.9" cy="333.5" r="4.5"/><circle cx="657.1" cy="332.0" r="4.5"/><circle cx="487.9" cy="331.7" r="4.5"/><circle cx="763.9" cy="331.4" r="4.5"/><circle cx="377.8" cy="326.8" r="4.5"/><circle cx="457.7" cy="324.3" r="4.5"/><circle cx="283.8" cy="329.9" r="4.5"/><circle cx="499.6" cy="322.9" r="4.5"/><circle cx="522.1" cy="329.6" r="4.5"/><circle cx="658.6" cy="333.7" r="4.5"/><circle cx="412.4" cy="330.9" r="4.5"/><circle cx="688.3" cy="330.5" r="4.5"/><circle cx="204.3" cy="330.4" r="4.5"/><circle cx="397.0" cy="333.0" r="4.5"/><circle cx="390.7" cy="325.7" r="4.5"/><circle cx="348.8" cy="329.6" r="4.5"/><circle cx="493.2" cy="330.7" r="4.5"/><circle cx="290.8" cy="329.7" r="4.5"/><circle cx="222.8" cy="328.2" r="4.5"/><circle cx="749.7" cy="333.0" r="4.5"/><circle cx="660.4" cy="330.4" r="4.5"/><circle cx="493.6" cy="300.4" r="4.5"/><circle cx="724.2" cy="330.0" r="4.5"/><circle cx="222.9" cy="331.4" r="4.5"/><circle cx="395.5" cy="325.4" r="4.5"/><circle cx="662.3" cy="330.5" r="4.5"/><circle cx="456.2" cy="314.0" r="4.5"/><circle cx="229.4" cy="331.4" r="4.5"/><circle cx="258.2" cy="333.7" r="4.5"/><circle cx="755.3" cy="333.2" r="4.5"/><circle cx="498.6" cy="318.1" r="4.5"/><circle cx="198.1" cy="331.8" r="4.5"/><circle cx="403.6" cy="327.0" r="4.5"/><circle cx="479.2" cy="296.9" r="4.5"/><circle cx="550.1" cy="332.2" r="4.5"/><circle cx="428.4" cy="321.1" r="4.5"/><circle cx="742.0" cy="329.3" r="4.5"/><circle cx="355.6" cy="331.6" r="4.5"/><circle cx="803.6" cy="327.3" r="4.5"/><circle cx="243.0" cy="328.7" r="4.5"/><circle cx="535.3" cy="328.5" r="4.5"/><circle cx="258.7" cy="332.0" r="4.5"/><circle cx="515.2" cy="310.7" r="4.5"/><circle cx="518.2" cy="311.2" r="4.5"/><circle cx="684.3" cy="333.6" r="4.5"/><circle cx="326.7" cy="332.6" r="4.5"/><circle cx="711.3" cy="330.7" r="4.5"/><circle cx="356.4" cy="329.6" r="4.5"/><circle cx="470.4" cy="313.4" r="4.5"/><circle cx="282.0" cy="328.1" r="4.5"/><circle cx="618.2" cy="329.4" r="4.5"/><circle cx="293.9" cy="328.8" r="4.5"/><circle cx="224.6" cy="334.9" r="4.5"/><circle cx="407.2" cy="334.1" r="4.5"/><circle cx="287.2" cy="329.0" r="4.5"/><circle cx="472.9" cy="333.7" r="4.5"/><circle cx="759.3" cy="331.0" r="4.5"/><circle cx="465.0" cy="298.5" r="4.5"/><circle cx="286.9" cy="328.3" r="4.5"/><circle cx="317.3" cy="333.2" r="4.5"/><circle cx="406.1" cy="328.6" r="4.5"/><circle cx="485.4" cy="304.5" r="4.5"/><circle cx="383.3" cy="325.8" r="4.5"/><circle cx="409.7" cy="318.0" r="4.5"/><circle cx="638.2" cy="333.9" r="4.5"/><circle cx="407.3" cy="322.5" r="4.5"/><circle cx="126.1" cy="332.7" r="4.5"/><circle cx="463.6" cy="301.6" r="4.5"/><circle cx="807.5" cy="328.7" r="4.5"/><circle cx="306.7" cy="332.0" r="4.5"/><circle cx="255.7" cy="327.8" r="4.5"/><circle cx="743.7" cy="329.9" r="4.5"/><circle cx="603.1" cy="329.6" r="4.5"/><circle cx="203.5" cy="328.7" r="4.5"/><circle cx="771.5" cy="332.3" r="4.5"/><circle cx="169.8" cy="329.5" r="4.5"/><circle cx="634.9" cy="333.2" r="4.5"/><circle cx="205.1" cy="331.4" r="4.5"/><circle cx="129.9" cy="332.8" r="4.5"/><circle cx="584.8" cy="328.8" r="4.5"/><circle cx="777.6" cy="327.8" r="4.5"/><circle cx="383.0" cy="327.9" r="4.5"/><circle cx="803.2" cy="328.3" r="4.5"/><circle cx="640.1" cy="334.3" r="4.5"/><circle cx="337.3" cy="329.6" r="4.5"/><circle cx="518.9" cy="318.7" r="4.5"/><circle cx="652.2" cy="332.7" r="4.5"/><circle cx="324.7" cy="329.9" r="4.5"/><circle cx="298.7" cy="329.5" r="4.5"/><circle cx="654.8" cy="331.7" r="4.5"/><circle cx="417.8" cy="328.6" r="4.5"/><circle cx="297.7" cy="331.6" r="4.5"/><circle cx="228.6" cy="330.0" r="4.5"/><circle cx="361.1" cy="328.8" r="4.5"/><circle cx="775.4" cy="333.4" r="4.5"/><circle cx="474.9" cy="295.6" r="4.5"/><circle cx="164.1" cy="330.2" r="4.5"/><circle cx="809.1" cy="332.0" r="4.5"/><circle cx="812.4" cy="331.7" r="4.5"/><circle cx="486.4" cy="309.8" r="4.5"/><circle cx="224.0" cy="330.4" r="4.5"/><circle cx="620.3" cy="329.8" r="4.5"/><circle cx="510.4" cy="301.1" r="4.5"/><circle cx="771.7" cy="330.6" r="4.5"/><circle cx="568.7" cy="329.3" r="4.5"/><circle cx="655.6" cy="334.2" r="4.5"/><circle cx="593.2" cy="329.9" r="4.5"/><circle cx="715.1" cy="330.5" r="4.5"/><circle cx="470.1" cy="319.6" r="4.5"/><circle cx="687.4" cy="331.0" r="4.5"/><circle cx="577.4" cy="329.9" r="4.5"/><circle cx="264.7" cy="329.7" r="4.5"/><circle cx="499.8" cy="309.8" r="4.5"/><circle cx="484.8" cy="322.3" r="4.5"/><circle cx="260.0" cy="329.8" r="4.5"/><circle cx="260.5" cy="327.3" r="4.5"/><circle cx="657.0" cy="329.6" r="4.5"/><circle cx="748.6" cy="332.7" r="4.5"/><circle cx="813.3" cy="330.4" r="4.5"/><circle cx="415.1" cy="327.9" r="4.5"/><circle cx="834.8" cy="330.1" r="4.5"/><circle cx="597.7" cy="330.3" r="4.5"/><circle cx="506.5" cy="303.4" r="4.5"/><circle cx="452.2" cy="317.8" r="4.5"/><circle cx="424.0" cy="320.1" r="4.5"/><circle cx="491.0" cy="333.5" r="4.5"/><circle cx="526.5" cy="324.5" r="4.5"/><circle cx="508.4" cy="303.5" r="4.5"/><circle cx="201.2" cy="331.6" r="4.5"/><circle cx="699.6" cy="328.7" r="4.5"/><circle cx="501.3" cy="307.0" r="4.5"/><circle cx="359.8" cy="330.2" r="4.5"/><circle cx="430.7" cy="316.5" r="4.5"/><circle cx="206.3" cy="329.9" r="4.5"/><circle cx="438.2" cy="300.4" r="4.5"/><circle cx="481.0" cy="323.6" r="4.5"/><circle cx="384.8" cy="327.2" r="4.5"/><circle cx="694.6" cy="330.3" r="4.5"/><circle cx="358.6" cy="332.6" r="4.5"/><circle cx="178.0" cy="331.3" r="4.5"/><circle cx="470.1" cy="304.9" r="4.5"/><circle cx="497.0" cy="310.4" r="4.5"/><circle cx="226.8" cy="329.6" r="4.5"/><circle cx="651.0" cy="332.0" r="4.5"/><circle cx="708.9" cy="331.3" r="4.5"/><circle cx="187.0" cy="328.8" r="4.5"/><circle cx="562.8" cy="330.6" r="4.5"/><circle cx="409.2" cy="320.5" r="4.5"/><circle cx="337.4" cy="330.8" r="4.5"/><circle cx="293.1" cy="329.4" r="4.5"/><circle cx="459.0" cy="320.8" r="4.5"/><circle cx="470.3" cy="326.5" r="4.5"/><circle cx="313.3" cy="332.6" r="4.5"/><circle cx="453.6" cy="302.8" r="4.5"/><circle cx="172.0" cy="327.0" r="4.5"/><circle cx="588.5" cy="330.1" r="4.5"/><circle cx="541.7" cy="330.9" r="4.5"/><circle cx="220.1" cy="332.3" r="4.5"/><circle cx="550.4" cy="332.6" r="4.5"/><circle cx="803.0" cy="327.7" r="4.5"/><circle cx="289.0" cy="328.9" r="4.5"/><circle cx="215.5" cy="330.5" r="4.5"/><circle cx="823.0" cy="332.7" r="4.5"/><circle cx="751.1" cy="329.0" r="4.5"/><circle cx="415.2" cy="325.9" r="4.5"/><circle cx="538.1" cy="330.3" r="4.5"/><circle cx="166.0" cy="332.6" r="4.5"/><circle cx="745.3" cy="331.2" r="4.5"/><circle cx="247.5" cy="327.4" r="4.5"/><circle cx="508.9" cy="309.0" r="4.5"/><circle cx="489.1" cy="305.6" r="4.5"/><circle cx="704.3" cy="334.2" r="4.5"/><circle cx="332.7" cy="332.9" r="4.5"/><circle cx="784.2" cy="328.7" r="4.5"/><circle cx="527.6" cy="325.1" r="4.5"/><circle cx="140.5" cy="331.8" r="4.5"/><circle cx="214.5" cy="331.9" r="4.5"/><circle cx="737.2" cy="328.5" r="4.5"/><circle cx="770.7" cy="332.2" r="4.5"/><circle cx="787.4" cy="330.8" r="4.5"/><circle cx="332.3" cy="331.1" r="4.5"/><circle cx="193.6" cy="328.1" r="4.5"/><circle cx="780.5" cy="329.3" r="4.5"/><circle cx="809.5" cy="330.0" r="4.5"/><circle cx="520.0" cy="329.4" r="4.5"/><circle cx="507.8" cy="302.7" r="4.5"/><circle cx="261.2" cy="327.3" r="4.5"/><circle cx="789.8" cy="327.5" r="4.5"/><circle cx="307.1" cy="328.7" r="4.5"/><circle cx="474.2" cy="294.9" r="4.5"/><circle cx="543.8" cy="330.9" r="4.5"/><circle cx="350.5" cy="331.9" r="4.5"/><circle cx="598.3" cy="330.4" r="4.5"/><circle cx="523.1" cy="327.5" r="4.5"/><circle cx="729.3" cy="332.6" r="4.5"/><circle cx="381.2" cy="327.7" r="4.5"/><circle cx="280.6" cy="329.2" r="4.5"/><circle cx="543.1" cy="324.7" r="4.5"/><circle cx="557.5" cy="329.5" r="4.5"/><circle cx="640.2" cy="330.6" r="4.5"/><circle cx="449.0" cy="316.7" r="4.5"/><circle cx="470.1" cy="322.1" r="4.5"/><circle cx="818.6" cy="329.9" r="4.5"/><circle cx="636.5" cy="332.6" r="4.5"/><circle cx="549.8" cy="332.9" r="4.5"/><circle cx="822.3" cy="330.4" r="4.5"/><circle cx="444.1" cy="319.2" r="4.5"/><circle cx="137.9" cy="331.8" r="4.5"/><circle cx="805.9" cy="331.8" r="4.5"/><circle cx="573.0" cy="332.7" r="4.5"/><circle cx="533.7" cy="326.2" r="4.5"/><circle cx="526.4" cy="331.4" r="4.5"/><circle cx="298.6" cy="328.2" r="4.5"/><circle cx="590.4" cy="330.3" r="4.5"/><circle cx="480.1" cy="313.2" r="4.5"/><circle cx="293.2" cy="330.0" r="4.5"/><circle cx="537.2" cy="330.3" r="4.5"/><circle cx="797.8" cy="330.4" r="4.5"/><circle cx="285.6" cy="332.6" r="4.5"/><circle cx="258.0" cy="325.6" r="4.5"/><circle cx="347.5" cy="329.7" r="4.5"/><circle cx="482.4" cy="302.8" r="4.5"/><circle cx="478.4" cy="301.5" r="4.5"/><circle cx="615.0" cy="330.3" r="4.5"/><circle cx="667.7" cy="329.9" r="4.5"/><circle cx="473.6" cy="306.5" r="4.5"/><circle cx="523.9" cy="328.6" r="4.5"/><circle cx="295.1" cy="331.1" r="4.5"/><circle cx="700.2" cy="332.5" r="4.5"/><circle cx="824.7" cy="330.2" r="4.5"/><circle cx="810.2" cy="328.7" r="4.5"/><circle cx="353.8" cy="330.5" r="4.5"/><circle cx="688.4" cy="332.5" r="4.5"/><circle cx="832.0" cy="331.6" r="4.5"/><circle cx="732.5" cy="334.1" r="4.5"/><circle cx="613.4" cy="330.8" r="4.5"/><circle cx="665.1" cy="331.7" r="4.5"/><circle cx="394.5" cy="323.6" r="4.5"/><circle cx="432.0" cy="304.6" r="4.5"/><circle cx="309.3" cy="330.6" r="4.5"/><circle cx="726.3" cy="329.0" r="4.5"/><circle cx="565.6" cy="329.4" r="4.5"/><circle cx="544.0" cy="329.6" r="4.5"/><circle cx="246.7" cy="331.6" r="4.5"/><circle cx="611.8" cy="329.5" r="4.5"/><circle cx="610.5" cy="330.1" r="4.5"/><circle cx="831.9" cy="327.7" r="4.5"/><circle cx="738.2" cy="331.8" r="4.5"/><circle cx="471.9" cy="320.2" r="4.5"/><circle cx="493.3" cy="316.2" r="4.5"/><circle cx="461.3" cy="310.7" r="4.5"/><circle cx="532.5" cy="325.8" r="4.5"/><circle cx="574.3" cy="331.7" r="4.5"/><circle cx="758.0" cy="331.3" r="4.5"/><circle cx="495.5" cy="305.6" r="4.5"/><circle cx="818.9" cy="328.8" r="4.5"/><circle cx="713.9" cy="331.1" r="4.5"/><circle cx="383.7" cy="330.9" r="4.5"/><circle cx="298.8" cy="328.6" r="4.5"/><circle cx="453.9" cy="310.2" r="4.5"/><circle cx="554.2" cy="331.7" r="4.5"/><circle cx="589.2" cy="329.1" r="4.5"/><circle cx="188.4" cy="333.6" r="4.5"/><circle cx="461.0" cy="311.8" r="4.5"/><circle cx="613.2" cy="331.9" r="4.5"/><circle cx="790.7" cy="333.9" r="4.5"/><circle cx="487.4" cy="302.9" r="4.5"/><circle cx="650.5" cy="330.7" r="4.5"/><circle cx="626.0" cy="333.6" r="4.5"/><circle cx="579.2" cy="329.8" r="4.5"/><circle cx="540.7" cy="324.5" r="4.5"/><circle cx="763.6" cy="329.9" r="4.5"/><circle cx="539.9" cy="330.4" r="4.5"/><circle cx="777.3" cy="330.2" r="4.5"/><circle cx="415.7" cy="323.1" r="4.5"/><circle cx="574.4" cy="332.7" r="4.5"/><circle cx="741.5" cy="328.5" r="4.5"/><circle cx="516.7" cy="306.2" r="4.5"/><circle cx="822.7" cy="329.6" r="4.5"/><circle cx="273.6" cy="329.7" r="4.5"/><circle cx="208.2" cy="332.2" r="4.5"/><circle cx="514.0" cy="324.2" r="4.5"/><circle cx="317.0" cy="328.9" r="4.5"/><circle cx="193.5" cy="330.6" r="4.5"/><circle cx="449.2" cy="299.4" r="4.5"/><circle cx="696.9" cy="330.0" r="4.5"/><circle cx="479.2" cy="307.6" r="4.5"/><circle cx="528.1" cy="331.7" r="4.5"/><circle cx="615.8" cy="328.8" r="4.5"/><circle cx="432.9" cy="307.1" r="4.5"/><circle cx="627.3" cy="332.0" r="4.5"/><circle cx="236.2" cy="330.8" r="4.5"/><circle cx="299.1" cy="332.1" r="4.5"/><circle cx="389.4" cy="324.3" r="4.5"/><circle cx="271.5" cy="330.5" r="4.5"/><circle cx="605.0" cy="329.8" r="4.5"/><circle cx="526.6" cy="327.9" r="4.5"/><circle cx="427.3" cy="316.5" r="4.5"/><circle cx="304.3" cy="329.2" r="4.5"/><circle cx="504.8" cy="323.7" r="4.5"/><circle cx="594.9" cy="330.9" r="4.5"/><circle cx="479.7" cy="297.6" r="4.5"/><circle cx="809.8" cy="329.4" r="4.5"/><circle cx="153.9" cy="330.0" r="4.5"/><circle cx="542.5" cy="330.2" r="4.5"/><circle cx="635.6" cy="329.7" r="4.5"/><circle cx="579.1" cy="329.2" r="4.5"/><circle cx="597.8" cy="332.8" r="4.5"/><circle cx="518.6" cy="314.2" r="4.5"/><circle cx="522.8" cy="329.9" r="4.5"/><circle cx="630.9" cy="330.0" r="4.5"/><circle cx="422.8" cy="320.4" r="4.5"/><circle cx="191.9" cy="328.0" r="4.5"/><circle cx="534.3" cy="327.2" r="4.5"/><circle cx="179.5" cy="328.0" r="4.5"/><circle cx="721.9" cy="329.8" r="4.5"/><circle cx="536.0" cy="331.8" r="4.5"/><circle cx="508.6" cy="315.3" r="4.5"/><circle cx="296.0" cy="330.0" r="4.5"/><circle cx="622.7" cy="329.9" r="4.5"/><circle cx="548.6" cy="330.4" r="4.5"/><circle cx="365.4" cy="328.6" r="4.5"/><circle cx="227.9" cy="328.7" r="4.5"/><circle cx="194.9" cy="328.5" r="4.5"/><circle cx="499.4" cy="302.7" r="4.5"/><circle cx="683.8" cy="332.0" r="4.5"/><circle cx="391.7" cy="329.0" r="4.5"/><circle cx="806.4" cy="332.6" r="4.5"/><circle cx="406.3" cy="326.1" r="4.5"/><circle cx="478.1" cy="318.1" r="4.5"/><circle cx="578.3" cy="330.6" r="4.5"/><circle cx="148.0" cy="331.0" r="4.5"/><circle cx="501.0" cy="325.3" r="4.5"/><circle cx="442.5" cy="316.3" r="4.5"/><circle cx="237.9" cy="326.9" r="4.5"/><circle cx="744.0" cy="330.1" r="4.5"/><circle cx="733.2" cy="329.0" r="4.5"/><circle cx="461.7" cy="305.8" r="4.5"/><circle cx="620.8" cy="330.5" r="4.5"/><circle cx="496.4" cy="324.6" r="4.5"/><circle cx="284.5" cy="333.6" r="4.5"/><circle cx="708.4" cy="329.9" r="4.5"/><circle cx="641.0" cy="329.5" r="4.5"/><circle cx="475.4" cy="313.5" r="4.5"/><circle cx="544.1" cy="324.5" r="4.5"/><circle cx="673.0" cy="330.8" r="4.5"/><circle cx="339.1" cy="329.9" r="4.5"/><circle cx="327.7" cy="321.0" r="4.5"/><circle cx="587.3" cy="331.7" r="4.5"/><circle cx="163.1" cy="331.3" r="4.5"/><circle cx="227.1" cy="331.2" r="4.5"/><circle cx="150.3" cy="329.0" r="4.5"/><circle cx="634.0" cy="333.9" r="4.5"/><circle cx="358.7" cy="329.9" r="4.5"/><circle cx="381.4" cy="328.8" r="4.5"/><circle cx="511.6" cy="317.5" r="4.5"/><circle cx="691.8" cy="329.2" r="4.5"/><circle cx="531.6" cy="330.3" r="4.5"/><circle cx="472.6" cy="299.9" r="4.5"/><circle cx="449.6" cy="320.9" r="4.5"/><circle cx="789.0" cy="333.5" r="4.5"/><circle cx="525.5" cy="331.6" r="4.5"/><circle cx="436.1" cy="300.5" r="4.5"/><circle cx="785.3" cy="328.6" r="4.5"/><circle cx="532.5" cy="324.4" r="4.5"/><circle cx="684.4" cy="330.5" r="4.5"/><circle cx="389.1" cy="323.4" r="4.5"/><circle cx="704.3" cy="331.4" r="4.5"/><circle cx="805.4" cy="327.6" r="4.5"/><circle cx="208.5" cy="329.5" r="4.5"/><circle cx="340.3" cy="330.7" r="4.5"/><circle cx="538.2" cy="327.9" r="4.5"/><circle cx="706.4" cy="332.5" r="4.5"/><circle cx="488.3" cy="320.7" r="4.5"/><circle cx="220.8" cy="328.3" r="4.5"/><circle cx="161.4" cy="332.2" r="4.5"/><circle cx="483.6" cy="313.1" r="4.5"/><circle cx="507.7" cy="326.5" r="4.5"/><circle cx="389.5" cy="326.9" r="4.5"/><circle cx="167.7" cy="329.2" r="4.5"/><circle cx="747.5" cy="331.2" r="4.5"/><circle cx="266.5" cy="327.9" r="4.5"/><circle cx="723.2" cy="333.3" r="4.5"/><circle cx="511.6" cy="311.3" r="4.5"/><circle cx="515.7" cy="307.0" r="4.5"/><circle cx="337.8" cy="332.1" r="4.5"/><circle cx="575.7" cy="330.8" r="4.5"/><circle cx="552.2" cy="334.0" r="4.5"/><circle cx="561.2" cy="330.8" r="4.5"/><circle cx="379.4" cy="328.3" r="4.5"/><circle cx="427.8" cy="332.1" r="4.5"/><circle cx="507.5" cy="309.8" r="4.5"/><circle cx="561.6" cy="328.8" r="4.5"/><circle cx="796.8" cy="329.6" r="4.5"/><circle cx="473.4" cy="295.6" r="4.5"/><circle cx="675.7" cy="329.4" r="4.5"/><circle cx="718.9" cy="329.4" r="4.5"/><circle cx="471.3" cy="299.8" r="4.5"/><circle cx="617.6" cy="331.3" r="4.5"/><circle cx="517.6" cy="331.6" r="4.5"/><circle cx="553.0" cy="333.2" r="4.5"/><circle cx="611.7" cy="328.7" r="4.5"/><circle cx="462.9" cy="316.3" r="4.5"/><circle cx="488.5" cy="310.3" r="4.5"/><circle cx="509.1" cy="305.0" r="4.5"/><circle cx="283.4" cy="330.5" r="4.5"/><circle cx="299.2" cy="331.7" r="4.5"/><circle cx="715.4" cy="329.9" r="4.5"/><circle cx="450.6" cy="305.4" r="4.5"/><circle cx="509.1" cy="313.4" r="4.5"/><circle cx="306.8" cy="329.5" r="4.5"/><circle cx="500.5" cy="303.1" r="4.5"/><circle cx="458.9" cy="311.1" r="4.5"/><circle cx="472.0" cy="307.9" r="4.5"/><circle cx="694.0" cy="332.1" r="4.5"/><circle cx="429.0" cy="314.9" r="4.5"/><circle cx="636.1" cy="331.7" r="4.5"/><circle cx="279.8" cy="330.2" r="4.5"/><circle cx="514.0" cy="309.3" r="4.5"/><circle cx="423.4" cy="327.4" r="4.5"/><circle cx="439.7" cy="312.0" r="4.5"/><circle cx="601.7" cy="331.6" r="4.5"/><circle cx="514.5" cy="303.8" r="4.5"/><circle cx="783.9" cy="328.7" r="4.5"/><circle cx="673.3" cy="330.7" r="4.5"/><circle cx="714.2" cy="328.5" r="4.5"/><circle cx="266.1" cy="330.1" r="4.5"/><circle cx="805.4" cy="330.6" r="4.5"/><circle cx="135.8" cy="331.7" r="4.5"/><circle cx="164.0" cy="328.2" r="4.5"/><circle cx="782.8" cy="331.3" r="4.5"/><circle cx="518.8" cy="322.5" r="4.5"/><circle cx="542.9" cy="328.8" r="4.5"/><circle cx="760.6" cy="330.2" r="4.5"/><circle cx="494.6" cy="318.5" r="4.5"/><circle cx="437.5" cy="317.4" r="4.5"/><circle cx="440.6" cy="301.7" r="4.5"/><circle cx="380.7" cy="325.7" r="4.5"/><circle cx="269.4" cy="328.6" r="4.5"/><circle cx="373.7" cy="329.0" r="4.5"/><circle cx="527.8" cy="333.1" r="4.5"/><circle cx="230.4" cy="328.5" r="4.5"/><circle cx="595.2" cy="329.1" r="4.5"/><circle cx="321.0" cy="334.7" r="4.5"/><circle cx="487.4" cy="321.3" r="4.5"/><circle cx="634.8" cy="332.9" r="4.5"/><circle cx="388.6" cy="327.1" r="4.5"/><circle cx="265.3" cy="329.0" r="4.5"/><circle cx="522.3" cy="324.0" r="4.5"/><circle cx="452.7" cy="322.6" r="4.5"/><circle cx="232.3" cy="330.6" r="4.5"/><circle cx="792.0" cy="331.1" r="4.5"/><circle cx="274.4" cy="329.7" r="4.5"/><circle cx="687.9" cy="330.6" r="4.5"/><circle cx="382.0" cy="328.3" r="4.5"/><circle cx="480.8" cy="309.1" r="4.5"/><circle cx="811.6" cy="332.5" r="4.5"/><circle cx="338.9" cy="330.4" r="4.5"/><circle cx="476.4" cy="299.4" r="4.5"/><circle cx="457.1" cy="299.2" r="4.5"/><circle cx="392.9" cy="323.8" r="4.5"/><circle cx="374.6" cy="329.6" r="4.5"/><circle cx="450.2" cy="306.4" r="4.5"/><circle cx="155.7" cy="333.1" r="4.5"/><circle cx="721.1" cy="331.9" r="4.5"/><circle cx="461.4" cy="301.0" r="4.5"/><circle cx="153.1" cy="329.2" r="4.5"/><circle cx="653.8" cy="329.2" r="4.5"/><circle cx="478.6" cy="297.1" r="4.5"/><circle cx="459.0" cy="316.0" r="4.5"/><circle cx="627.5" cy="330.5" r="4.5"/><circle cx="479.7" cy="304.0" r="4.5"/><circle cx="510.0" cy="324.8" r="4.5"/><circle cx="523.6" cy="331.7" r="4.5"/><circle cx="496.9" cy="304.6" r="4.5"/><circle cx="690.0" cy="330.4" r="4.5"/><circle cx="342.0" cy="332.8" r="4.5"/><circle cx="643.4" cy="332.5" r="4.5"/><circle cx="780.0" cy="329.5" r="4.5"/><circle cx="826.4" cy="334.7" r="4.5"/><circle cx="461.1" cy="317.3" r="4.5"/><circle cx="159.1" cy="328.4" r="4.5"/><circle cx="762.2" cy="333.9" r="4.5"/><circle cx="628.3" cy="329.9" r="4.5"/><circle cx="626.0" cy="331.3" r="4.5"/><circle cx="159.2" cy="330.0" r="4.5"/><circle cx="710.2" cy="331.3" r="4.5"/><circle cx="157.2" cy="332.3" r="4.5"/><circle cx="131.8" cy="331.3" r="4.5"/><circle cx="759.6" cy="332.8" r="4.5"/><circle cx="443.5" cy="299.9" r="4.5"/><circle cx="219.0" cy="328.0" r="4.5"/><circle cx="812.1" cy="331.3" r="4.5"/><circle cx="359.2" cy="329.5" r="4.5"/><circle cx="509.6" cy="306.4" r="4.5"/><circle cx="778.6" cy="331.3" r="4.5"/><circle cx="408.7" cy="330.6" r="4.5"/><circle cx="404.1" cy="324.4" r="4.5"/><circle cx="535.2" cy="324.1" r="4.5"/><circle cx="211.6" cy="329.8" r="4.5"/><circle cx="567.3" cy="329.0" r="4.5"/><circle cx="461.8" cy="304.3" r="4.5"/><circle cx="412.1" cy="319.2" r="4.5"/><circle cx="486.3" cy="298.6" r="4.5"/><circle cx="649.8" cy="329.8" r="4.5"/><circle cx="506.5" cy="304.9" r="4.5"/><circle cx="165.2" cy="330.2" r="4.5"/><circle cx="601.2" cy="331.6" r="4.5"/><circle cx="472.9" cy="307.1" r="4.5"/><circle cx="470.4" cy="326.5" r="4.5"/><circle cx="684.2" cy="330.5" r="4.5"/><circle cx="489.5" cy="325.6" r="4.5"/><circle cx="553.9" cy="330.9" r="4.5"/><circle cx="234.3" cy="327.4" r="4.5"/><circle cx="586.7" cy="330.0" r="4.5"/><circle cx="423.0" cy="325.7" r="4.5"/><circle cx="254.2" cy="333.2" r="4.5"/><circle cx="800.1" cy="326.5" r="4.5"/><circle cx="477.3" cy="297.5" r="4.5"/><circle cx="126.3" cy="333.5" r="4.5"/><circle cx="494.1" cy="315.3" r="4.5"/><circle cx="300.1" cy="329.8" r="4.5"/><circle cx="620.0" cy="332.1" r="4.5"/><circle cx="373.2" cy="334.9" r="4.5"/><circle cx="818.1" cy="328.9" r="4.5"/><circle cx="449.1" cy="308.9" r="4.5"/><circle cx="213.0" cy="332.3" r="4.5"/><circle cx="388.3" cy="331.7" r="4.5"/><circle cx="647.8" cy="329.4" r="4.5"/><circle cx="691.0" cy="329.4" r="4.5"/><circle cx="650.5" cy="329.2" r="4.5"/><circle cx="257.2" cy="334.7" r="4.5"/><circle cx="324.6" cy="328.5" r="4.5"/><circle cx="779.7" cy="329.7" r="4.5"/><circle cx="559.3" cy="333.4" r="4.5"/><circle cx="424.1" cy="317.8" r="4.5"/><circle cx="467.9" cy="309.6" r="4.5"/><circle cx="475.9" cy="297.3" r="4.5"/><circle cx="586.3" cy="329.3" r="4.5"/><circle cx="456.9" cy="316.8" r="4.5"/><circle cx="126.4" cy="328.6" r="4.5"/><circle cx="485.0" cy="296.7" r="4.5"/><circle cx="712.9" cy="329.7" r="4.5"/><circle cx="695.6" cy="330.6" r="4.5"/><circle cx="485.9" cy="328.0" r="4.5"/><circle cx="542.8" cy="332.3" r="4.5"/><circle cx="688.6" cy="331.8" r="4.5"/><circle cx="492.7" cy="303.2" r="4.5"/><circle cx="541.4" cy="333.6" r="4.5"/><circle cx="524.8" cy="324.7" r="4.5"/><circle cx="446.9" cy="326.3" r="4.5"/><circle cx="775.7" cy="328.6" r="4.5"/><circle cx="511.2" cy="302.3" r="4.5"/><circle cx="396.4" cy="330.6" r="4.5"/><circle cx="821.9" cy="332.7" r="4.5"/><circle cx="386.1" cy="324.8" r="4.5"/><circle cx="498.4" cy="306.7" r="4.5"/><circle cx="241.9" cy="331.2" r="4.5"/><circle cx="320.6" cy="333.0" r="4.5"/><circle cx="482.3" cy="304.8" r="4.5"/><circle cx="804.6" cy="330.5" r="4.5"/><circle cx="762.4" cy="329.3" r="4.5"/><circle cx="654.6" cy="331.3" r="4.5"/><circle cx="368.9" cy="332.8" r="4.5"/><circle cx="190.9" cy="332.3" r="4.5"/><circle cx="519.5" cy="321.5" r="4.5"/><circle cx="523.9" cy="326.5" r="4.5"/><circle cx="483.7" cy="321.7" r="4.5"/><circle cx="462.3" cy="325.9" r="4.5"/><circle cx="791.1" cy="329.6" r="4.5"/><circle cx="453.6" cy="299.0" r="4.5"/><circle cx="513.0" cy="326.2" r="4.5"/><circle cx="435.1" cy="302.2" r="4.5"/><circle cx="365.8" cy="328.0" r="4.5"/><circle cx="754.7" cy="329.1" r="4.5"/><circle cx="250.0" cy="328.2" r="4.5"/><circle cx="730.5" cy="329.5" r="4.5"/><circle cx="472.3" cy="320.5" r="4.5"/><circle cx="223.5" cy="328.6" r="4.5"/><circle cx="716.5" cy="332.0" r="4.5"/><circle cx="416.2" cy="319.6" r="4.5"/><circle cx="745.5" cy="330.4" r="4.5"/><circle cx="639.5" cy="331.3" r="4.5"/><circle cx="146.0" cy="330.3" r="4.5"/><circle cx="199.6" cy="334.7" r="4.5"/><circle cx="442.1" cy="303.0" r="4.5"/><circle cx="237.0" cy="325.2" r="4.5"/><circle cx="522.4" cy="332.7" r="4.5"/><circle cx="321.8" cy="329.0" r="4.5"/><circle cx="167.6" cy="329.5" r="4.5"/><circle cx="303.0" cy="331.7" r="4.5"/><circle cx="512.9" cy="320.1" r="4.5"/><circle cx="135.9" cy="330.0" r="4.5"/><circle cx="684.0" cy="329.9" r="4.5"/><circle cx="600.3" cy="330.2" r="4.5"/><circle cx="334.9" cy="331.4" r="4.5"/><circle cx="527.5" cy="323.4" r="4.5"/><circle cx="139.9" cy="331.7" r="4.5"/><circle cx="337.6" cy="329.0" r="4.5"/><circle cx="679.2" cy="329.6" r="4.5"/><circle cx="779.7" cy="334.8" r="4.5"/><circle cx="362.8" cy="332.5" r="4.5"/><circle cx="830.7" cy="330.4" r="4.5"/><circle cx="585.4" cy="333.4" r="4.5"/><circle cx="499.7" cy="323.8" r="4.5"/><circle cx="376.4" cy="331.7" r="4.5"/><circle cx="639.1" cy="329.6" r="4.5"/><circle cx="701.4" cy="329.7" r="4.5"/><circle cx="608.2" cy="330.2" r="4.5"/><circle cx="541.5" cy="328.1" r="4.5"/><circle cx="446.4" cy="314.3" r="4.5"/><circle cx="758.5" cy="332.6" r="4.5"/><circle cx="415.3" cy="318.0" r="4.5"/><circle cx="337.0" cy="330.8" r="4.5"/><circle cx="304.6" cy="329.6" r="4.5"/><circle cx="327.4" cy="328.9" r="4.5"/><circle cx="231.0" cy="332.5" r="4.5"/><circle cx="202.2" cy="329.7" r="4.5"/><circle cx="761.4" cy="332.3" r="4.5"/><circle cx="588.9" cy="330.9" r="4.5"/><circle cx="741.2" cy="333.6" r="4.5"/><circle cx="582.5" cy="328.7" r="4.5"/><circle cx="475.5" cy="296.3" r="4.5"/><circle cx="691.3" cy="330.1" r="4.5"/><circle cx="498.3" cy="316.6" r="4.5"/><circle cx="766.5" cy="333.8" r="4.5"/><circle cx="373.7" cy="330.2" r="4.5"/><circle cx="649.4" cy="328.9" r="4.5"/><circle cx="797.2" cy="327.5" r="4.5"/><circle cx="757.8" cy="331.0" r="4.5"/><circle cx="408.0" cy="332.8" r="4.5"/><circle cx="239.0" cy="327.6" r="4.5"/><circle cx="683.4" cy="330.9" r="4.5"/><circle cx="720.9" cy="330.1" r="4.5"/><circle cx="426.4" cy="317.9" r="4.5"/><circle cx="470.0" cy="311.6" r="4.5"/><circle cx="365.3" cy="332.4" r="4.5"/><circle cx="154.9" cy="329.3" r="4.5"/><circle cx="403.1" cy="328.6" r="4.5"/><circle cx="375.5" cy="330.4" r="4.5"/><circle cx="593.4" cy="331.3" r="4.5"/><circle cx="172.4" cy="328.1" r="4.5"/><circle cx="442.7" cy="302.1" r="4.5"/><circle cx="280.5" cy="328.7" r="4.5"/><circle cx="768.6" cy="329.1" r="4.5"/><circle cx="461.6" cy="304.3" r="4.5"/><circle cx="489.2" cy="326.1" r="4.5"/><circle cx="131.5" cy="330.0" r="4.5"/><circle cx="470.2" cy="298.8" r="4.5"/><circle cx="328.3" cy="330.7" r="4.5"/><circle cx="738.5" cy="332.1" r="4.5"/><circle cx="577.5" cy="332.8" r="4.5"/><circle cx="414.1" cy="326.1" r="4.5"/><circle cx="828.5" cy="327.1" r="4.5"/><circle cx="524.8" cy="326.0" r="4.5"/><circle cx="497.3" cy="320.8" r="4.5"/><circle cx="311.0" cy="329.8" r="4.5"/><circle cx="655.0" cy="331.0" r="4.5"/><circle cx="786.4" cy="331.6" r="4.5"/><circle cx="771.2" cy="330.1" r="4.5"/><circle cx="416.2" cy="320.5" r="4.5"/><circle cx="231.1" cy="329.8" r="4.5"/><circle cx="601.8" cy="332.3" r="4.5"/><circle cx="466.2" cy="327.6" r="4.5"/><circle cx="447.2" cy="313.2" r="4.5"/><circle cx="169.6" cy="332.0" r="4.5"/><circle cx="511.1" cy="316.3" r="4.5"/><circle cx="774.5" cy="328.5" r="4.5"/><circle cx="515.1" cy="304.9" r="4.5"/><circle cx="772.4" cy="333.5" r="4.5"/><circle cx="522.8" cy="323.0" r="4.5"/><circle cx="139.6" cy="334.5" r="4.5"/><circle cx="417.3" cy="328.5" r="4.5"/><circle cx="440.3" cy="314.6" r="4.5"/><circle cx="475.9" cy="299.8" r="4.5"/><circle cx="756.6" cy="331.0" r="4.5"/><circle cx="792.3" cy="328.1" r="4.5"/><circle cx="191.6" cy="332.9" r="4.5"/><circle cx="566.7" cy="332.4" r="4.5"/><circle cx="518.4" cy="324.1" r="4.5"/><circle cx="531.1" cy="324.4" r="4.5"/><circle cx="244.4" cy="329.0" r="4.5"/><circle cx="469.8" cy="325.1" r="4.5"/><circle cx="495.2" cy="332.4" r="4.5"/><circle cx="415.5" cy="329.2" r="4.5"/><circle cx="492.5" cy="314.4" r="4.5"/><circle cx="255.1" cy="332.3" r="4.5"/><circle cx="478.1" cy="330.9" r="4.5"/><circle cx="478.5" cy="297.1" r="4.5"/><circle cx="212.0" cy="328.4" r="4.5"/><circle cx="300.8" cy="328.1" r="4.5"/><circle cx="413.6" cy="331.2" r="4.5"/><circle cx="694.4" cy="332.8" r="4.5"/><circle cx="249.7" cy="331.8" r="4.5"/><circle cx="240.3" cy="328.1" r="4.5"/><circle cx="493.9" cy="319.7" r="4.5"/><circle cx="672.9" cy="332.4" r="4.5"/><circle cx="484.5" cy="316.0" r="4.5"/><circle cx="184.2" cy="328.1" r="4.5"/><circle cx="426.5" cy="317.4" r="4.5"/><circle cx="746.4" cy="330.2" r="4.5"/><circle cx="235.4" cy="327.9" r="4.5"/><circle cx="210.6" cy="330.8" r="4.5"/><circle cx="483.4" cy="317.1" r="4.5"/><circle cx="458.0" cy="318.5" r="4.5"/><circle cx="345.8" cy="329.0" r="4.5"/><circle cx="366.2" cy="330.4" r="4.5"/><circle cx="371.8" cy="328.0" r="4.5"/><circle cx="427.7" cy="331.6" r="4.5"/><circle cx="654.7" cy="330.4" r="4.5"/><circle cx="450.8" cy="322.0" r="4.5"/><circle cx="441.6" cy="306.3" r="4.5"/><circle cx="819.1" cy="333.9" r="4.5"/><circle cx="389.7" cy="324.3" r="4.5"/><circle cx="689.8" cy="329.1" r="4.5"/><circle cx="537.1" cy="325.0" r="4.5"/><circle cx="685.9" cy="331.3" r="4.5"/><circle cx="218.2" cy="328.6" r="4.5"/><circle cx="496.2" cy="312.8" r="4.5"/><circle cx="473.2" cy="310.5" r="4.5"/><circle cx="367.7" cy="329.6" r="4.5"/><circle cx="484.3" cy="303.8" r="4.5"/><circle cx="320.6" cy="328.4" r="4.5"/><circle cx="155.1" cy="329.8" r="4.5"/><circle cx="482.6" cy="307.4" r="4.5"/><circle cx="491.1" cy="318.5" r="4.5"/><circle cx="831.2" cy="327.4" r="4.5"/><circle cx="671.0" cy="332.4" r="4.5"/><circle cx="228.8" cy="330.0" r="4.5"/><circle cx="563.4" cy="332.7" r="4.5"/><circle cx="516.0" cy="320.7" r="4.5"/><circle cx="726.0" cy="329.9" r="4.5"/><circle cx="633.2" cy="331.9" r="4.5"/><circle cx="392.2" cy="334.1" r="4.5"/><circle cx="176.3" cy="329.0" r="4.5"/><circle cx="322.6" cy="329.4" r="4.5"/><circle cx="270.5" cy="331.9" r="4.5"/><circle cx="134.0" cy="329.5" r="4.5"/><circle cx="662.1" cy="330.7" r="4.5"/><circle cx="740.1" cy="330.9" r="4.5"/><circle cx="499.2" cy="310.2" r="4.5"/><circle cx="501.2" cy="326.9" r="4.5"/><circle cx="245.2" cy="332.8" r="4.5"/><circle cx="707.0" cy="331.5" r="4.5"/><circle cx="126.3" cy="333.3" r="4.5"/><circle cx="834.6" cy="327.6" r="4.5"/><circle cx="188.8" cy="330.4" r="4.5"/><circle cx="257.7" cy="329.7" r="4.5"/><circle cx="497.9" cy="326.5" r="4.5"/><circle cx="502.2" cy="308.2" r="4.5"/><circle cx="257.6" cy="327.0" r="4.5"/><circle cx="373.7" cy="333.7" r="4.5"/><circle cx="364.5" cy="328.6" r="4.5"/><circle cx="581.5" cy="329.1" r="4.5"/><circle cx="170.2" cy="327.1" r="4.5"/><circle cx="519.5" cy="316.3" r="4.5"/><circle cx="452.2" cy="300.1" r="4.5"/><circle cx="572.1" cy="330.6" r="4.5"/><circle cx="597.6" cy="330.6" r="4.5"/><circle cx="801.7" cy="330.7" r="4.5"/><circle cx="212.7" cy="333.9" r="4.5"/><circle cx="442.9" cy="306.7" r="4.5"/><circle cx="528.1" cy="329.1" r="4.5"/><circle cx="490.6" cy="333.8" r="4.5"/><circle cx="722.0" cy="330.8" r="4.5"/><circle cx="826.5" cy="328.4" r="4.5"/><circle cx="355.7" cy="333.0" r="4.5"/><circle cx="197.1" cy="331.0" r="4.5"/><circle cx="525.1" cy="325.3" r="4.5"/><circle cx="350.1" cy="328.7" r="4.5"/><circle cx="385.8" cy="324.3" r="4.5"/><circle cx="588.7" cy="329.4" r="4.5"/><circle cx="452.6" cy="310.2" r="4.5"/><circle cx="450.6" cy="299.4" r="4.5"/><circle cx="165.5" cy="329.3" r="4.5"/><circle cx="530.6" cy="331.3" r="4.5"/><circle cx="712.4" cy="332.1" r="4.5"/><circle cx="469.3" cy="327.0" r="4.5"/><circle cx="713.2" cy="333.8" r="4.5"/><circle cx="465.4" cy="325.6" r="4.5"/><circle cx="298.0" cy="333.4" r="4.5"/><circle cx="273.8" cy="332.6" r="4.5"/><circle cx="703.9" cy="329.7" r="4.5"/><circle cx="754.0" cy="334.1" r="4.5"/><circle cx="474.7" cy="320.8" r="4.5"/><circle cx="197.1" cy="331.7" r="4.5"/><circle cx="251.5" cy="332.5" r="4.5"/><circle cx="215.5" cy="330.8" r="4.5"/><circle cx="422.8" cy="323.9" r="4.5"/><circle cx="460.8" cy="320.4" r="4.5"/><circle cx="353.2" cy="332.2" r="4.5"/><circle cx="144.8" cy="328.5" r="4.5"/><circle cx="447.5" cy="325.7" r="4.5"/><circle cx="486.3" cy="301.9" r="4.5"/><circle cx="223.9" cy="329.1" r="4.5"/><circle cx="829.6" cy="332.7" r="4.5"/><circle cx="479.3" cy="302.9" r="4.5"/><circle cx="209.0" cy="329.4" r="4.5"/><circle cx="768.5" cy="333.8" r="4.5"/><circle cx="636.9" cy="329.4" r="4.5"/><circle cx="495.1" cy="309.8" r="4.5"/><circle cx="749.4" cy="333.3" r="4.5"/><circle cx="772.4" cy="329.3" r="4.5"/><circle cx="574.5" cy="332.4" r="4.5"/><circle cx="330.3" cy="331.2" r="4.5"/><circle cx="642.7" cy="330.7" r="4.5"/><circle cx="527.7" cy="324.7" r="4.5"/><circle cx="427.6" cy="325.7" r="4.5"/><circle cx="401.4" cy="326.6" r="4.5"/><circle cx="263.7" cy="334.0" r="4.5"/><circle cx="260.0" cy="328.5" r="4.5"/><circle cx="303.9" cy="330.0" r="4.5"/><circle cx="539.5" cy="330.0" r="4.5"/><circle cx="425.7" cy="323.3" r="4.5"/><circle cx="466.0" cy="301.2" r="4.5"/><circle cx="442.0" cy="304.4" r="4.5"/><circle cx="446.4" cy="310.3" r="4.5"/><circle cx="249.5" cy="331.7" r="4.5"/><circle cx="815.8" cy="334.8" r="4.5"/><circle cx="480.8" cy="310.7" r="4.5"/><circle cx="799.6" cy="332.1" r="4.5"/><circle cx="444.7" cy="319.9" r="4.5"/><circle cx="508.7" cy="313.7" r="4.5"/><circle cx="639.1" cy="332.1" r="4.5"/><circle cx="234.1" cy="329.8" r="4.5"/><circle cx="469.4" cy="300.4" r="4.5"/><circle cx="753.7" cy="330.1" r="4.5"/><circle cx="591.8" cy="329.8" r="4.5"/><circle cx="302.8" cy="332.5" r="4.5"/><circle cx="228.1" cy="329.9" r="4.5"/><circle cx="435.4" cy="309.0" r="4.5"/><circle cx="687.6" cy="330.8" r="4.5"/><circle cx="733.1" cy="329.8" r="4.5"/><circle cx="817.8" cy="328.7" r="4.5"/><circle cx="607.4" cy="332.3" r="4.5"/><circle cx="500.9" cy="324.5" r="4.5"/><circle cx="720.1" cy="330.8" r="4.5"/><circle cx="465.0" cy="295.0" r="4.5"/><circle cx="791.2" cy="328.8" r="4.5"/><circle cx="200.4" cy="329.9" r="4.5"/><circle cx="134.4" cy="330.5" r="4.5"/><circle cx="614.2" cy="332.4" r="4.5"/><circle cx="367.3" cy="328.2" r="4.5"/><circle cx="338.1" cy="329.3" r="4.5"/><circle cx="499.1" cy="302.9" r="4.5"/><circle cx="513.8" cy="307.3" r="4.5"/><circle cx="425.0" cy="322.5" r="4.5"/><circle cx="502.4" cy="327.8" r="4.5"/><circle cx="413.7" cy="322.6" r="4.5"/><circle cx="690.4" cy="333.3" r="4.5"/><circle cx="788.6" cy="329.4" r="4.5"/><circle cx="183.4" cy="329.1" r="4.5"/><circle cx="818.2" cy="327.7" r="4.5"/><circle cx="245.4" cy="328.6" r="4.5"/><circle cx="434.4" cy="314.9" r="4.5"/><circle cx="650.6" cy="332.3" r="4.5"/><circle cx="790.1" cy="333.6" r="4.5"/><circle cx="715.6" cy="328.9" r="4.5"/><circle cx="466.0" cy="310.2" r="4.5"/><circle cx="695.8" cy="330.1" r="4.5"/><circle cx="634.3" cy="330.0" r="4.5"/><circle cx="499.9" cy="306.5" r="4.5"/><circle cx="231.0" cy="332.6" r="4.5"/><circle cx="432.0" cy="312.8" r="4.5"/><circle cx="473.3" cy="306.0" r="4.5"/><circle cx="173.8" cy="329.2" r="4.5"/><circle cx="148.3" cy="328.5" r="4.5"/><circle cx="155.1" cy="329.9" r="4.5"/><circle cx="616.0" cy="331.3" r="4.5"/><circle cx="242.1" cy="331.2" r="4.5"/><circle cx="512.0" cy="315.6" r="4.5"/><circle cx="230.7" cy="331.3" r="4.5"/><circle cx="191.4" cy="332.1" r="4.5"/><circle cx="382.1" cy="333.2" r="4.5"/><circle cx="265.6" cy="330.1" r="4.5"/><circle cx="249.7" cy="327.7" r="4.5"/><circle cx="206.5" cy="328.9" r="4.5"/><circle cx="575.2" cy="331.2" r="4.5"/><circle cx="167.4" cy="327.9" r="4.5"/><circle cx="763.7" cy="329.8" r="4.5"/><circle cx="317.3" cy="332.7" r="4.5"/><circle cx="533.7" cy="329.9" r="4.5"/><circle cx="426.0" cy="328.1" r="4.5"/><circle cx="531.3" cy="331.7" r="4.5"/><circle cx="453.1" cy="310.1" r="4.5"/><circle cx="349.7" cy="328.6" r="4.5"/><circle cx="423.0" cy="319.8" r="4.5"/><circle cx="599.3" cy="329.1" r="4.5"/><circle cx="559.4" cy="331.2" r="4.5"/><circle cx="490.1" cy="311.3" r="4.5"/><circle cx="543.7" cy="331.3" r="4.5"/><circle cx="638.7" cy="329.7" r="4.5"/><circle cx="679.6" cy="330.2" r="4.5"/><circle cx="518.4" cy="327.9" r="4.5"/><circle cx="232.5" cy="329.6" r="4.5"/><circle cx="475.5" cy="303.2" r="4.5"/><circle cx="451.8" cy="313.4" r="4.5"/><circle cx="711.6" cy="330.2" r="4.5"/><circle cx="424.9" cy="325.6" r="4.5"/><circle cx="267.4" cy="328.4" r="4.5"/><circle cx="397.4" cy="326.2" r="4.5"/><circle cx="233.3" cy="328.2" r="4.5"/><circle cx="299.3" cy="331.8" r="4.5"/><circle cx="394.8" cy="326.2" r="4.5"/><circle cx="743.5" cy="332.2" r="4.5"/><circle cx="482.0" cy="321.8" r="4.5"/><circle cx="186.9" cy="330.5" r="4.5"/><circle cx="472.9" cy="311.8" r="4.5"/><circle cx="455.9" cy="299.7" r="4.5"/><circle cx="710.4" cy="332.4" r="4.5"/><circle cx="303.7" cy="329.7" r="4.5"/><circle cx="553.4" cy="330.6" r="4.5"/><circle cx="464.9" cy="299.6" r="4.5"/><circle cx="383.0" cy="327.1" r="4.5"/><circle cx="290.3" cy="329.5" r="4.5"/><circle cx="142.6" cy="329.6" r="4.5"/><circle cx="461.1" cy="320.3" r="4.5"/><circle cx="625.4" cy="330.4" r="4.5"/><circle cx="478.6" cy="316.5" r="4.5"/><circle cx="477.7" cy="297.7" r="4.5"/><circle cx="675.7" cy="332.2" r="4.5"/><circle cx="207.9" cy="332.2" r="4.5"/><circle cx="434.5" cy="305.6" r="4.5"/><circle cx="372.7" cy="331.7" r="4.5"/><circle cx="756.4" cy="329.4" r="4.5"/><circle cx="407.6" cy="322.8" r="4.5"/><circle cx="616.1" cy="334.1" r="4.5"/><circle cx="658.1" cy="333.6" r="4.5"/><circle cx="532.0" cy="331.2" r="4.5"/><circle cx="527.8" cy="328.8" r="4.5"/><circle cx="503.7" cy="302.2" r="4.5"/><circle cx="627.7" cy="330.8" r="4.5"/><circle cx="540.2" cy="325.4" r="4.5"/><circle cx="737.7" cy="331.6" r="4.5"/><circle cx="738.9" cy="331.2" r="4.5"/><circle cx="591.0" cy="330.0" r="4.5"/><circle cx="268.8" cy="328.1" r="4.5"/><circle cx="604.9" cy="331.7" r="4.5"/><circle cx="314.9" cy="329.3" r="4.5"/><circle cx="411.1" cy="329.4" r="4.5"/><circle cx="760.0" cy="329.3" r="4.5"/><circle cx="265.6" cy="332.6" r="4.5"/><circle cx="445.9" cy="310.1" r="4.5"/><circle cx="136.9" cy="328.7" r="4.5"/><circle cx="801.1" cy="330.6" r="4.5"/><circle cx="407.4" cy="326.7" r="4.5"/><circle cx="418.9" cy="324.6" r="4.5"/><circle cx="783.4" cy="327.6" r="4.5"/><circle cx="487.2" cy="327.7" r="4.5"/><circle cx="148.6" cy="329.8" r="4.5"/><circle cx="403.8" cy="319.5" r="4.5"/><circle cx="572.8" cy="331.8" r="4.5"/><circle cx="724.8" cy="332.3" r="4.5"/><circle cx="697.9" cy="332.3" r="4.5"/><circle cx="500.0" cy="305.0" r="4.5"/><circle cx="256.1" cy="333.1" r="4.5"/><circle cx="538.2" cy="329.6" r="4.5"/><circle cx="315.8" cy="330.9" r="4.5"/><circle cx="681.2" cy="332.5" r="4.5"/><circle cx="778.1" cy="330.2" r="4.5"/><circle cx="536.2" cy="327.9" r="4.5"/><circle cx="183.3" cy="331.5" r="4.5"/><circle cx="498.5" cy="318.7" r="4.5"/><circle cx="800.0" cy="327.0" r="4.5"/><circle cx="436.9" cy="308.1" r="4.5"/><circle cx="327.2" cy="333.1" r="4.5"/><circle cx="548.9" cy="331.6" r="4.5"/><circle cx="265.0" cy="325.4" r="4.5"/><circle cx="259.1" cy="326.9" r="4.5"/><circle cx="674.0" cy="332.5" r="4.5"/><circle cx="497.1" cy="301.8" r="4.5"/><circle cx="458.2" cy="324.8" r="4.5"/><circle cx="461.3" cy="297.7" r="4.5"/><circle cx="490.3" cy="314.4" r="4.5"/><circle cx="607.4" cy="329.4" r="4.5"/><circle cx="680.9" cy="332.7" r="4.5"/><circle cx="457.8" cy="317.5" r="4.5"/><circle cx="482.7" cy="296.2" r="4.5"/><circle cx="535.9" cy="323.7" r="4.5"/><circle cx="470.0" cy="309.7" r="4.5"/><circle cx="555.3" cy="332.1" r="4.5"/><circle cx="163.0" cy="331.5" r="4.5"/><circle cx="435.2" cy="318.5" r="4.5"/><circle cx="303.8" cy="331.5" r="4.5"/><circle cx="516.3" cy="306.1" r="4.5"/><circle cx="349.3" cy="330.7" r="4.5"/><circle cx="485.6" cy="319.0" r="4.5"/><circle cx="396.0" cy="333.0" r="4.5"/><circle cx="572.3" cy="330.1" r="4.5"/><circle cx="808.5" cy="332.0" r="4.5"/><circle cx="404.7" cy="321.7" r="4.5"/><circle cx="459.2" cy="301.8" r="4.5"/><circle cx="279.7" cy="329.2" r="4.5"/><circle cx="461.7" cy="323.4" r="4.5"/><circle cx="408.9" cy="324.3" r="4.5"/><circle cx="513.3" cy="310.5" r="4.5"/><circle cx="296.3" cy="328.6" r="4.5"/><circle cx="177.8" cy="333.9" r="4.5"/><circle cx="341.4" cy="329.8" r="4.5"/><circle cx="153.1" cy="329.8" r="4.5"/><circle cx="714.2" cy="331.5" r="4.5"/><circle cx="791.2" cy="330.1" r="4.5"/><circle cx="168.8" cy="329.7" r="4.5"/><circle cx="634.6" cy="331.5" r="4.5"/><circle cx="163.9" cy="329.7" r="4.5"/><circle cx="476.2" cy="312.2" r="4.5"/><circle cx="760.5" cy="329.7" r="4.5"/><circle cx="767.9" cy="331.7" r="4.5"/><circle cx="379.1" cy="333.6" r="4.5"/><circle cx="501.2" cy="304.3" r="4.5"/><circle cx="518.2" cy="328.6" r="4.5"/><circle cx="584.0" cy="331.5" r="4.5"/><circle cx="669.1" cy="329.3" r="4.5"/><circle cx="383.0" cy="325.9" r="4.5"/><circle cx="221.8" cy="329.8" r="4.5"/><circle cx="476.9" cy="298.7" r="4.5"/><circle cx="224.4" cy="330.2" r="4.5"/><circle cx="791.3" cy="328.8" r="4.5"/><circle cx="766.0" cy="331.7" r="4.5"/><circle cx="400.9" cy="327.8" r="4.5"/><circle cx="471.0" cy="315.0" r="4.5"/><circle cx="204.8" cy="328.3" r="4.5"/><circle cx="319.5" cy="328.2" r="4.5"/><circle cx="215.8" cy="332.7" r="4.5"/><circle cx="506.8" cy="303.6" r="4.5"/><circle cx="677.1" cy="329.5" r="4.5"/><circle cx="226.2" cy="328.3" r="4.5"/><circle cx="522.9" cy="325.4" r="4.5"/><circle cx="572.4" cy="330.5" r="4.5"/><circle cx="295.9" cy="331.4" r="4.5"/><circle cx="270.0" cy="328.9" r="4.5"/><circle cx="148.9" cy="331.5" r="4.5"/><circle cx="786.6" cy="333.1" r="4.5"/><circle cx="606.2" cy="328.9" r="4.5"/><circle cx="225.8" cy="333.1" r="4.5"/><circle cx="723.8" cy="330.5" r="4.5"/><circle cx="445.2" cy="300.2" r="4.5"/><circle cx="486.8" cy="304.8" r="4.5"/><circle cx="752.9" cy="329.8" r="4.5"/><circle cx="396.8" cy="321.3" r="4.5"/><circle cx="500.6" cy="301.2" r="4.5"/><circle cx="510.6" cy="321.3" r="4.5"/><circle cx="802.0" cy="326.5" r="4.5"/><circle cx="199.0" cy="329.6" r="4.5"/><circle cx="434.1" cy="315.7" r="4.5"/><circle cx="584.6" cy="330.1" r="4.5"/><circle cx="758.2" cy="334.8" r="4.5"/><circle cx="437.0" cy="309.5" r="4.5"/><circle cx="391.1" cy="330.1" r="4.5"/><circle cx="485.2" cy="296.3" r="4.5"/><circle cx="420.9" cy="332.2" r="4.5"/><circle cx="670.7" cy="329.4" r="4.5"/><circle cx="515.0" cy="315.4" r="4.5"/><circle cx="416.9" cy="325.6" r="4.5"/><circle cx="314.0" cy="330.8" r="4.5"/><circle cx="488.1" cy="311.0" r="4.5"/><circle cx="609.4" cy="332.4" r="4.5"/><circle cx="444.1" cy="318.2" r="4.5"/><circle cx="722.2" cy="332.4" r="4.5"/><circle cx="557.0" cy="331.1" r="4.5"/><circle cx="240.6" cy="334.1" r="4.5"/><circle cx="431.2" cy="324.1" r="4.5"/><circle cx="759.4" cy="329.1" r="4.5"/><circle cx="126.7" cy="330.0" r="4.5"/><circle cx="377.9" cy="327.9" r="4.5"/><circle cx="587.8" cy="332.6" r="4.5"/><circle cx="461.1" cy="324.9" r="4.5"/><circle cx="605.1" cy="329.2" r="4.5"/><circle cx="169.5" cy="329.7" r="4.5"/><circle cx="194.4" cy="328.6" r="4.5"/><circle cx="485.7" cy="316.9" r="4.5"/><circle cx="386.7" cy="330.2" r="4.5"/><circle cx="369.8" cy="327.4" r="4.5"/><circle cx="696.2" cy="329.3" r="4.5"/><circle cx="498.9" cy="326.1" r="4.5"/><circle cx="486.7" cy="301.4" r="4.5"/><circle cx="486.7" cy="296.5" r="4.5"/><circle cx="651.1" cy="330.4" r="4.5"/><circle cx="487.3" cy="329.9" r="4.5"/><circle cx="428.0" cy="321.9" r="4.5"/><circle cx="579.1" cy="333.0" r="4.5"/><circle cx="704.2" cy="332.2" r="4.5"/><circle cx="429.5" cy="310.6" r="4.5"/><circle cx="595.9" cy="330.3" r="4.5"/><circle cx="478.7" cy="297.3" r="4.5"/><circle cx="660.0" cy="332.6" r="4.5"/><circle cx="498.9" cy="310.3" r="4.5"/><circle cx="267.9" cy="334.1" r="4.5"/><circle cx="452.6" cy="300.6" r="4.5"/><circle cx="514.0" cy="303.0" r="4.5"/><circle cx="818.2" cy="330.2" r="4.5"/><circle cx="770.0" cy="330.3" r="4.5"/><circle cx="152.1" cy="333.2" r="4.5"/><circle cx="535.7" cy="331.3" r="4.5"/><circle cx="530.0" cy="329.7" r="4.5"/><circle cx="404.7" cy="320.7" r="4.5"/><circle cx="796.9" cy="328.9" r="4.5"/><circle cx="755.8" cy="330.0" r="4.5"/><circle cx="503.6" cy="321.5" r="4.5"/><circle cx="284.0" cy="329.5" r="4.5"/><circle cx="588.3" cy="331.9" r="4.5"/><circle cx="805.9" cy="330.3" r="4.5"/><circle cx="728.5" cy="330.1" r="4.5"/><circle cx="480.7" cy="309.4" r="4.5"/><circle cx="441.0" cy="317.7" r="4.5"/><circle cx="822.2" cy="331.1" r="4.5"/><circle cx="348.3" cy="330.8" r="4.5"/><circle cx="549.5" cy="328.8" r="4.5"/><circle cx="660.5" cy="331.7" r="4.5"/><circle cx="251.9" cy="328.4" r="4.5"/><circle cx="534.6" cy="325.7" r="4.5"/><circle cx="780.6" cy="328.1" r="4.5"/><circle cx="793.8" cy="329.5" r="4.5"/><circle cx="460.4" cy="324.0" r="4.5"/><circle cx="353.3" cy="328.5" r="4.5"/><circle cx="206.7" cy="330.3" r="4.5"/><circle cx="626.5" cy="329.8" r="4.5"/><circle cx="573.4" cy="330.6" r="4.5"/><circle cx="386.8" cy="327.8" r="4.5"/><circle cx="398.1" cy="327.1" r="4.5"/><circle cx="810.0" cy="331.2" r="4.5"/><circle cx="241.2" cy="330.9" r="4.5"/><circle cx="274.4" cy="329.3" r="4.5"/><circle cx="447.2" cy="310.0" r="4.5"/><circle cx="422.7" cy="320.4" r="4.5"/><circle cx="717.9" cy="329.2" r="4.5"/><circle cx="363.0" cy="328.7" r="4.5"/><circle cx="670.1" cy="333.1" r="4.5"/><circle cx="536.6" cy="324.8" r="4.5"/><circle cx="481.0" cy="315.5" r="4.5"/><circle cx="335.9" cy="328.2" r="4.5"/><circle cx="265.1" cy="328.8" r="4.5"/><circle cx="201.5" cy="332.0" r="4.5"/><circle cx="611.6" cy="330.0" r="4.5"/><circle cx="464.1" cy="319.1" r="4.5"/><circle cx="496.1" cy="331.3" r="4.5"/><circle cx="564.5" cy="331.6" r="4.5"/><circle cx="470.9" cy="320.3" r="4.5"/><circle cx="130.1" cy="329.7" r="4.5"/><circle cx="222.4" cy="329.0" r="4.5"/><circle cx="460.6" cy="309.9" r="4.5"/><circle cx="545.3" cy="327.3" r="4.5"/><circle cx="807.3" cy="328.3" r="4.5"/><circle cx="419.8" cy="322.7" r="4.5"/><circle cx="344.2" cy="333.0" r="4.5"/><circle cx="385.0" cy="332.8" r="4.5"/><circle cx="445.2" cy="300.9" r="4.5"/><circle cx="485.7" cy="318.5" r="4.5"/><circle cx="539.8" cy="324.9" r="4.5"/><circle cx="462.8" cy="310.9" r="4.5"/><circle cx="527.8" cy="329.6" r="4.5"/><circle cx="595.1" cy="333.9" r="4.5"/><circle cx="163.2" cy="330.7" r="4.5"/><circle cx="211.9" cy="329.5" r="4.5"/><circle cx="409.0" cy="326.1" r="4.5"/><circle cx="216.6" cy="332.1" r="4.5"/><circle cx="502.8" cy="305.3" r="4.5"/><circle cx="400.8" cy="321.5" r="4.5"/><circle cx="535.3" cy="329.4" r="4.5"/><circle cx="452.0" cy="308.9" r="4.5"/><circle cx="441.2" cy="310.8" r="4.5"/><circle cx="406.6" cy="327.7" r="4.5"/><circle cx="216.5" cy="328.4" r="4.5"/><circle cx="820.6" cy="328.1" r="4.5"/><circle cx="325.9" cy="331.6" r="4.5"/><circle cx="315.2" cy="329.2" r="4.5"/><circle cx="710.1" cy="330.0" r="4.5"/><circle cx="448.9" cy="301.2" r="4.5"/><circle cx="827.1" cy="331.8" r="4.5"/><circle cx="372.4" cy="328.6" r="4.5"/><circle cx="629.8" cy="333.1" r="4.5"/><circle cx="698.1" cy="330.2" r="4.5"/><circle cx="777.8" cy="333.4" r="4.5"/><circle cx="291.0" cy="330.0" r="4.5"/><circle cx="478.6" cy="313.7" r="4.5"/><circle cx="450.0" cy="302.0" r="4.5"/><circle cx="700.0" cy="332.7" r="4.5"/><circle cx="349.9" cy="331.0" r="4.5"/><circle cx="794.0" cy="331.9" r="4.5"/><circle cx="521.2" cy="320.4" r="4.5"/><circle cx="525.0" cy="327.6" r="4.5"/><circle cx="487.7" cy="307.7" r="4.5"/><circle cx="490.3" cy="315.5" r="4.5"/><circle cx="532.1" cy="329.2" r="4.5"/><circle cx="486.9" cy="318.4" r="4.5"/><circle cx="205.8" cy="328.9" r="4.5"/><circle cx="629.6" cy="330.1" r="4.5"/><circle cx="470.8" cy="300.7" r="4.5"/><circle cx="210.0" cy="328.5" r="4.5"/><circle cx="231.0" cy="333.6" r="4.5"/><circle cx="506.1" cy="323.2" r="4.5"/><circle cx="442.4" cy="331.1" r="4.5"/><circle cx="486.6" cy="325.8" r="4.5"/><circle cx="163.7" cy="332.2" r="4.5"/><circle cx="474.0" cy="312.2" r="4.5"/><circle cx="317.0" cy="329.8" r="4.5"/><circle cx="353.9" cy="331.9" r="4.5"/><circle cx="163.6" cy="330.5" r="4.5"/><circle cx="305.5" cy="329.4" r="4.5"/><circle cx="550.1" cy="329.9" r="4.5"/><circle cx="698.9" cy="331.7" r="4.5"/><circle cx="427.0" cy="325.0" r="4.5"/><circle cx="212.3" cy="331.6" r="4.5"/><circle cx="560.1" cy="333.3" r="4.5"/><circle cx="747.2" cy="330.2" r="4.5"/><circle cx="518.3" cy="310.4" r="4.5"/><circle cx="493.3" cy="302.1" r="4.5"/><circle cx="722.0" cy="329.7" r="4.5"/><circle cx="296.1" cy="328.1" r="4.5"/><circle cx="665.0" cy="332.1" r="4.5"/><circle cx="466.8" cy="306.5" r="4.5"/><circle cx="633.5" cy="329.2" r="4.5"/><circle cx="321.1" cy="329.9" r="4.5"/><circle cx="387.5" cy="329.8" r="4.5"/><circle cx="162.1" cy="328.8" r="4.5"/><circle cx="390.8" cy="328.3" r="4.5"/><circle cx="435.0" cy="305.6" r="4.5"/><circle cx="681.1" cy="331.2" r="4.5"/><circle cx="584.9" cy="329.7" r="4.5"/><circle cx="308.1" cy="329.4" r="4.5"/><circle cx="574.6" cy="329.3" r="4.5"/><circle cx="415.7" cy="325.5" r="4.5"/><circle cx="615.0" cy="333.5" r="4.5"/><circle cx="441.0" cy="300.1" r="4.5"/><circle cx="542.9" cy="332.3" r="4.5"/><circle cx="155.9" cy="330.0" r="4.5"/><circle cx="422.5" cy="317.2" r="4.5"/><circle cx="764.5" cy="329.0" r="4.5"/><circle cx="583.5" cy="330.6" r="4.5"/><circle cx="413.2" cy="320.9" r="4.5"/><circle cx="710.5" cy="328.9" r="4.5"/><circle cx="272.5" cy="333.9" r="4.5"/><circle cx="447.7" cy="317.4" r="4.5"/><circle cx="792.9" cy="331.0" r="4.5"/><circle cx="296.2" cy="331.8" r="4.5"/><circle cx="349.0" cy="332.7" r="4.5"/><circle cx="354.5" cy="329.5" r="4.5"/><circle cx="171.9" cy="330.3" r="4.5"/><circle cx="199.6" cy="331.0" r="4.5"/><circle cx="382.2" cy="327.5" r="4.5"/><circle cx="682.5" cy="333.4" r="4.5"/><circle cx="770.6" cy="331.8" r="4.5"/><circle cx="738.4" cy="330.2" r="4.5"/><circle cx="654.6" cy="329.6" r="4.5"/><circle cx="265.6" cy="329.3" r="4.5"/><circle cx="171.6" cy="329.3" r="4.5"/><circle cx="319.6" cy="329.2" r="4.5"/><circle cx="670.3" cy="332.6" r="4.5"/><circle cx="226.7" cy="327.7" r="4.5"/><circle cx="249.0" cy="331.9" r="4.5"/><circle cx="485.3" cy="299.5" r="4.5"/><circle cx="576.6" cy="329.2" r="4.5"/><circle cx="245.1" cy="333.0" r="4.5"/><circle cx="496.7" cy="310.2" r="4.5"/><circle cx="402.7" cy="324.5" r="4.5"/><circle cx="477.9" cy="294.6" r="4.5"/><circle cx="589.6" cy="333.2" r="4.5"/><circle cx="803.3" cy="329.6" r="4.5"/><circle cx="188.9" cy="329.2" r="4.5"/><circle cx="355.6" cy="330.1" r="4.5"/><circle cx="295.9" cy="330.3" r="4.5"/><circle cx="478.0" cy="315.9" r="4.5"/><circle cx="517.0" cy="313.2" r="4.5"/><circle cx="576.9" cy="331.1" r="4.5"/><circle cx="819.9" cy="330.3" r="4.5"/><circle cx="360.2" cy="329.2" r="4.5"/><circle cx="421.8" cy="323.0" r="4.5"/><circle cx="484.2" cy="295.0" r="4.5"/><circle cx="130.3" cy="328.6" r="4.5"/><circle cx="150.2" cy="333.0" r="4.5"/><circle cx="426.8" cy="323.1" r="4.5"/><circle cx="302.9" cy="329.0" r="4.5"/><circle cx="220.9" cy="329.8" r="4.5"/><circle cx="570.1" cy="329.5" r="4.5"/><circle cx="771.9" cy="333.4" r="4.5"/><circle cx="405.7" cy="333.4" r="4.5"/><circle cx="526.2" cy="332.4" r="4.5"/><circle cx="572.8" cy="332.1" r="4.5"/><circle cx="508.6" cy="306.1" r="4.5"/><circle cx="505.9" cy="306.1" r="4.5"/><circle cx="199.5" cy="331.2" r="4.5"/><circle cx="518.3" cy="312.2" r="4.5"/><circle cx="390.7" cy="327.2" r="4.5"/><circle cx="348.1" cy="328.4" r="4.5"/><circle cx="799.2" cy="327.1" r="4.5"/><circle cx="651.4" cy="329.9" r="4.5"/><circle cx="697.3" cy="330.2" r="4.5"/><circle cx="446.1" cy="316.9" r="4.5"/><circle cx="387.2" cy="330.4" r="4.5"/><circle cx="509.0" cy="320.1" r="4.5"/><circle cx="464.4" cy="304.9" r="4.5"/><circle cx="259.5" cy="331.3" r="4.5"/><circle cx="328.1" cy="328.7" r="4.5"/><circle cx="546.4" cy="327.3" r="4.5"/><circle cx="488.4" cy="304.5" r="4.5"/><circle cx="356.6" cy="329.3" r="4.5"/><circle cx="452.6" cy="301.3" r="4.5"/><circle cx="517.7" cy="313.6" r="4.5"/><circle cx="208.4" cy="331.7" r="4.5"/><circle cx="170.0" cy="325.0" r="4.5"/><circle cx="601.0" cy="329.2" r="4.5"/><circle cx="721.6" cy="333.7" r="4.5"/><circle cx="585.6" cy="333.4" r="4.5"/><circle cx="464.1" cy="305.2" r="4.5"/><circle cx="469.6" cy="307.9" r="4.5"/><circle cx="589.9" cy="332.5" r="4.5"/><circle cx="482.7" cy="296.8" r="4.5"/><circle cx="762.8" cy="333.8" r="4.5"/><circle cx="512.0" cy="326.6" r="4.5"/><circle cx="522.2" cy="328.0" r="4.5"/><circle cx="157.5" cy="328.0" r="4.5"/><circle cx="543.4" cy="327.7" r="4.5"/><circle cx="278.2" cy="329.2" r="4.5"/><circle cx="728.1" cy="329.7" r="4.5"/><circle cx="341.1" cy="332.8" r="4.5"/><circle cx="712.3" cy="333.6" r="4.5"/><circle cx="800.8" cy="331.2" r="4.5"/><circle cx="579.3" cy="331.8" r="4.5"/><circle cx="346.0" cy="330.7" r="4.5"/><circle cx="453.2" cy="328.5" r="4.5"/><circle cx="372.6" cy="326.9" r="4.5"/><circle cx="298.0" cy="328.8" r="4.5"/><circle cx="489.1" cy="297.8" r="4.5"/><circle cx="311.8" cy="334.2" r="4.5"/><circle cx="153.1" cy="329.2" r="4.5"/><circle cx="503.9" cy="328.9" r="4.5"/><circle cx="771.9" cy="329.8" r="4.5"/><circle cx="369.1" cy="333.0" r="4.5"/><circle cx="331.4" cy="328.5" r="4.5"/><circle cx="421.2" cy="317.5" r="4.5"/><circle cx="284.6" cy="330.3" r="4.5"/><circle cx="601.8" cy="329.9" r="4.5"/><circle cx="158.7" cy="331.5" r="4.5"/><circle cx="452.8" cy="308.2" r="4.5"/><circle cx="155.8" cy="329.2" r="4.5"/><circle cx="704.7" cy="332.2" r="4.5"/><circle cx="663.3" cy="334.1" r="4.5"/><circle cx="142.2" cy="329.3" r="4.5"/><circle cx="609.7" cy="332.3" r="4.5"/><circle cx="571.8" cy="330.5" r="4.5"/><circle cx="549.9" cy="329.4" r="4.5"/><circle cx="717.1" cy="329.1" r="4.5"/><circle cx="730.3" cy="329.9" r="4.5"/><circle cx="659.0" cy="328.7" r="4.5"/><circle cx="603.5" cy="330.4" r="4.5"/><circle cx="170.7" cy="327.4" r="4.5"/><circle cx="750.0" cy="331.3" r="4.5"/><circle cx="682.0" cy="329.0" r="4.5"/><circle cx="696.7" cy="329.6" r="4.5"/><circle cx="541.2" cy="324.6" r="4.5"/><circle cx="509.4" cy="326.3" r="4.5"/><circle cx="814.5" cy="332.4" r="4.5"/><circle cx="484.9" cy="297.9" r="4.5"/><circle cx="714.6" cy="331.0" r="4.5"/><circle cx="253.0" cy="334.3" r="4.5"/><circle cx="491.5" cy="308.3" r="4.5"/><circle cx="752.2" cy="330.4" r="4.5"/><circle cx="532.4" cy="329.2" r="4.5"/><circle cx="167.0" cy="331.3" r="4.5"/><circle cx="452.4" cy="300.7" r="4.5"/><circle cx="573.1" cy="332.0" r="4.5"/><circle cx="453.1" cy="330.0" r="4.5"/><circle cx="444.7" cy="330.0" r="4.5"/><circle cx="465.9" cy="306.6" r="4.5"/><circle cx="820.8" cy="334.5" r="4.5"/><circle cx="481.7" cy="307.3" r="4.5"/><circle cx="822.2" cy="331.5" r="4.5"/><circle cx="368.0" cy="331.5" r="4.5"/><circle cx="455.3" cy="300.2" r="4.5"/><circle cx="155.7" cy="328.2" r="4.5"/><circle cx="475.1" cy="313.0" r="4.5"/><circle cx="142.3" cy="333.4" r="4.5"/><circle cx="469.4" cy="327.1" r="4.5"/><circle cx="434.3" cy="306.2" r="4.5"/><circle cx="729.5" cy="328.7" r="4.5"/><circle cx="368.6" cy="333.2" r="4.5"/><circle cx="542.6" cy="317.2" r="4.5"/><circle cx="755.6" cy="329.9" r="4.5"/><circle cx="435.5" cy="308.5" r="4.5"/><circle cx="607.6" cy="332.7" r="4.5"/><circle cx="125.3" cy="333.3" r="4.5"/><circle cx="425.7" cy="318.8" r="4.5"/><circle cx="550.7" cy="331.0" r="4.5"/><circle cx="762.1" cy="328.9" r="4.5"/><circle cx="833.2" cy="327.7" r="4.5"/><circle cx="665.1" cy="331.4" r="4.5"/><circle cx="239.4" cy="331.2" r="4.5"/><circle cx="698.5" cy="332.8" r="4.5"/><circle cx="630.1" cy="332.1" r="4.5"/><circle cx="412.1" cy="323.1" r="4.5"/><circle cx="615.2" cy="331.8" r="4.5"/><circle cx="669.7" cy="329.4" r="4.5"/><circle cx="793.8" cy="330.3" r="4.5"/><circle cx="592.7" cy="333.9" r="4.5"/><circle cx="180.2" cy="333.6" r="4.5"/><circle cx="319.3" cy="330.4" r="4.5"/><circle cx="464.9" cy="306.8" r="4.5"/><circle cx="489.0" cy="317.8" r="4.5"/><circle cx="532.0" cy="328.8" r="4.5"/><circle cx="326.4" cy="332.4" r="4.5"/><circle cx="146.7" cy="328.9" r="4.5"/><circle cx="181.3" cy="329.4" r="4.5"/><circle cx="441.6" cy="320.5" r="4.5"/><circle cx="271.3" cy="332.6" r="4.5"/><circle cx="454.4" cy="308.4" r="4.5"/><circle cx="232.1" cy="329.5" r="4.5"/><circle cx="474.4" cy="312.3" r="4.5"/><circle cx="299.3" cy="331.0" r="4.5"/><circle cx="438.0" cy="304.2" r="4.5"/><circle cx="164.8" cy="330.5" r="4.5"/><circle cx="445.8" cy="302.9" r="4.5"/><circle cx="630.8" cy="330.5" r="4.5"/><circle cx="160.6" cy="328.6" r="4.5"/><circle cx="825.1" cy="334.3" r="4.5"/><circle cx="222.4" cy="330.7" r="4.5"/><circle cx="434.7" cy="298.0" r="4.5"/><circle cx="679.4" cy="330.4" r="4.5"/><circle cx="251.7" cy="331.2" r="4.5"/><circle cx="226.9" cy="329.4" r="4.5"/><circle cx="465.5" cy="300.7" r="4.5"/><circle cx="702.2" cy="329.2" r="4.5"/><circle cx="243.3" cy="328.3" r="4.5"/><circle cx="544.1" cy="325.5" r="4.5"/><circle cx="773.6" cy="329.7" r="4.5"/><circle cx="486.0" cy="316.0" r="4.5"/><circle cx="307.4" cy="330.0" r="4.5"/><circle cx="728.1" cy="330.2" r="4.5"/><circle cx="504.1" cy="304.2" r="4.5"/><circle cx="410.7" cy="325.6" r="4.5"/><circle cx="205.4" cy="330.7" r="4.5"/><circle cx="670.3" cy="330.9" r="4.5"/><circle cx="451.5" cy="322.9" r="4.5"/><circle cx="756.8" cy="331.1" r="4.5"/><circle cx="194.8" cy="332.2" r="4.5"/><circle cx="465.0" cy="331.0" r="4.5"/><circle cx="332.9" cy="334.2" r="4.5"/><circle cx="298.8" cy="332.4" r="4.5"/><circle cx="427.5" cy="317.3" r="4.5"/><circle cx="687.4" cy="331.1" r="4.5"/><circle cx="135.0" cy="331.5" r="4.5"/><circle cx="491.3" cy="323.2" r="4.5"/><circle cx="465.3" cy="322.7" r="4.5"/><circle cx="591.4" cy="332.2" r="4.5"/><circle cx="254.2" cy="328.5" r="4.5"/><circle cx="537.0" cy="327.8" r="4.5"/><circle cx="383.4" cy="324.6" r="4.5"/><circle cx="460.4" cy="301.0" r="4.5"/><circle cx="510.3" cy="315.6" r="4.5"/><circle cx="470.6" cy="329.7" r="4.5"/><circle cx="291.1" cy="330.9" r="4.5"/><circle cx="420.1" cy="320.2" r="4.5"/><circle cx="549.9" cy="331.7" r="4.5"/><circle cx="657.7" cy="333.5" r="4.5"/><circle cx="439.7" cy="320.5" r="4.5"/><circle cx="292.7" cy="329.0" r="4.5"/><circle cx="176.6" cy="331.4" r="4.5"/><circle cx="459.5" cy="301.3" r="4.5"/><circle cx="632.5" cy="332.6" r="4.5"/><circle cx="509.0" cy="301.1" r="4.5"/><circle cx="790.9" cy="332.7" r="4.5"/><circle cx="136.0" cy="329.2" r="4.5"/><circle cx="614.0" cy="329.3" r="4.5"/><circle cx="249.8" cy="330.3" r="4.5"/><circle cx="814.1" cy="328.4" r="4.5"/><circle cx="189.4" cy="328.8" r="4.5"/><circle cx="135.7" cy="334.8" r="4.5"/><circle cx="697.1" cy="330.0" r="4.5"/><circle cx="451.9" cy="299.5" r="4.5"/><circle cx="455.8" cy="325.4" r="4.5"/><circle cx="829.0" cy="327.4" r="4.5"/><circle cx="447.6" cy="307.9" r="4.5"/><circle cx="246.4" cy="332.1" r="4.5"/><circle cx="440.8" cy="300.7" r="4.5"/><circle cx="525.3" cy="329.8" r="4.5"/><circle cx="214.0" cy="327.9" r="4.5"/><circle cx="258.6" cy="328.0" r="4.5"/><circle cx="782.0" cy="331.1" r="4.5"/><circle cx="265.3" cy="330.9" r="4.5"/><circle cx="536.8" cy="324.6" r="4.5"/><circle cx="517.7" cy="319.6" r="4.5"/><circle cx="418.3" cy="321.5" r="4.5"/><circle cx="291.5" cy="332.7" r="4.5"/><circle cx="700.7" cy="330.2" r="4.5"/><circle cx="435.4" cy="302.1" r="4.5"/><circle cx="240.3" cy="327.8" r="4.5"/><circle cx="146.3" cy="329.1" r="4.5"/><circle cx="486.9" cy="326.8" r="4.5"/><circle cx="534.4" cy="328.3" r="4.5"/><circle cx="519.9" cy="324.2" r="4.5"/><circle cx="478.2" cy="324.4" r="4.5"/><circle cx="739.3" cy="330.5" r="4.5"/><circle cx="480.6" cy="307.2" r="4.5"/><circle cx="788.1" cy="332.0" r="4.5"/><circle cx="323.9" cy="328.7" r="4.5"/><circle cx="578.8" cy="333.2" r="4.5"/><circle cx="816.8" cy="331.2" r="4.5"/><circle cx="323.0" cy="330.9" r="4.5"/><circle cx="507.4" cy="321.9" r="4.5"/><circle cx="231.3" cy="329.4" r="4.5"/><circle cx="388.1" cy="324.5" r="4.5"/><circle cx="469.4" cy="297.6" r="4.5"/><circle cx="443.3" cy="306.0" r="4.5"/><circle cx="699.2" cy="330.3" r="4.5"/><circle cx="610.4" cy="330.3" r="4.5"/><circle cx="660.9" cy="329.4" r="4.5"/><circle cx="276.5" cy="331.5" r="4.5"/><circle cx="646.4" cy="331.0" r="4.5"/><circle cx="491.4" cy="319.8" r="4.5"/><circle cx="829.2" cy="329.3" r="4.5"/><circle cx="634.5" cy="332.2" r="4.5"/><circle cx="514.0" cy="319.9" r="4.5"/><circle cx="364.1" cy="333.2" r="4.5"/><circle cx="449.2" cy="322.1" r="4.5"/><circle cx="281.1" cy="328.7" r="4.5"/><circle cx="468.5" cy="301.1" r="4.5"/><circle cx="733.3" cy="329.5" r="4.5"/><circle cx="649.9" cy="330.5" r="4.5"/><circle cx="396.2" cy="322.0" r="4.5"/><circle cx="506.0" cy="299.0" r="4.5"/><circle cx="339.7" cy="333.5" r="4.5"/><circle cx="517.4" cy="320.6" r="4.5"/><circle cx="485.6" cy="300.0" r="4.5"/><circle cx="720.3" cy="334.1" r="4.5"/><circle cx="723.8" cy="329.3" r="4.5"/><circle cx="334.4" cy="328.1" r="4.5"/><circle cx="477.2" cy="321.7" r="4.5"/><circle cx="821.0" cy="328.3" r="4.5"/><circle cx="463.2" cy="298.1" r="4.5"/><circle cx="188.3" cy="328.3" r="4.5"/><circle cx="560.7" cy="329.7" r="4.5"/><circle cx="580.9" cy="329.6" r="4.5"/><circle cx="711.1" cy="330.6" r="4.5"/><circle cx="642.8" cy="331.7" r="4.5"/><circle cx="533.1" cy="325.8" r="4.5"/><circle cx="519.5" cy="324.2" r="4.5"/><circle cx="446.0" cy="297.2" r="4.5"/><circle cx="745.3" cy="332.2" r="4.5"/><circle cx="245.3" cy="329.8" r="4.5"/><circle cx="469.2" cy="298.9" r="4.5"/><circle cx="539.3" cy="324.6" r="4.5"/><circle cx="134.0" cy="329.3" r="4.5"/><circle cx="777.3" cy="328.6" r="4.5"/><circle cx="451.6" cy="306.4" r="4.5"/><circle cx="138.0" cy="328.4" r="4.5"/><circle cx="321.6" cy="330.1" r="4.5"/><circle cx="437.0" cy="306.6" r="4.5"/><circle cx="798.0" cy="334.2" r="4.5"/><circle cx="521.1" cy="325.7" r="4.5"/><circle cx="551.7" cy="329.9" r="4.5"/><circle cx="212.7" cy="328.2" r="4.5"/><circle cx="564.2" cy="329.3" r="4.5"/><circle cx="461.5" cy="304.2" r="4.5"/><circle cx="466.2" cy="306.5" r="4.5"/><circle cx="186.5" cy="328.0" r="4.5"/><circle cx="328.3" cy="333.7" r="4.5"/><circle cx="581.1" cy="332.6" r="4.5"/><circle cx="635.3" cy="331.3" r="4.5"/><circle cx="833.2" cy="330.8" r="4.5"/><circle cx="152.9" cy="329.5" r="4.5"/><circle cx="180.3" cy="330.9" r="4.5"/><circle cx="326.9" cy="333.9" r="4.5"/><circle cx="715.4" cy="329.7" r="4.5"/><circle cx="467.2" cy="327.3" r="4.5"/><circle cx="537.7" cy="332.1" r="4.5"/><circle cx="576.0" cy="331.4" r="4.5"/><circle cx="585.7" cy="333.1" r="4.5"/><circle cx="161.4" cy="332.9" r="4.5"/><circle cx="525.8" cy="331.8" r="4.5"/><circle cx="301.7" cy="331.3" r="4.5"/><circle cx="597.4" cy="333.6" r="4.5"/><circle cx="424.3" cy="316.8" r="4.5"/><circle cx="516.9" cy="319.1" r="4.5"/><circle cx="382.7" cy="330.9" r="4.5"/><circle cx="664.5" cy="329.3" r="4.5"/><circle cx="178.5" cy="332.6" r="4.5"/><circle cx="205.3" cy="330.8" r="4.5"/><circle cx="532.2" cy="324.1" r="4.5"/><circle cx="774.9" cy="329.8" r="4.5"/><circle cx="139.8" cy="333.5" r="4.5"/><circle cx="387.0" cy="328.5" r="4.5"/><circle cx="798.3" cy="333.7" r="4.5"/><circle cx="444.8" cy="301.3" r="4.5"/><circle cx="662.0" cy="331.6" r="4.5"/><circle cx="514.2" cy="308.9" r="4.5"/><circle cx="673.2" cy="329.3" r="4.5"/><circle cx="308.3" cy="331.0" r="4.5"/><circle cx="579.0" cy="332.8" r="4.5"/><circle cx="778.2" cy="330.9" r="4.5"/><circle cx="682.6" cy="334.1" r="4.5"/><circle cx="348.2" cy="330.0" r="4.5"/><circle cx="460.5" cy="311.1" r="4.5"/><circle cx="382.7" cy="326.7" r="4.5"/><circle cx="803.6" cy="328.8" r="4.5"/><circle cx="752.7" cy="329.8" r="4.5"/><circle cx="779.2" cy="329.4" r="4.5"/><circle cx="536.3" cy="326.4" r="4.5"/><circle cx="496.8" cy="307.0" r="4.5"/><circle cx="440.4" cy="326.6" r="4.5"/><circle cx="557.3" cy="331.6" r="4.5"/><circle cx="619.2" cy="331.4" r="4.5"/><circle cx="221.1" cy="328.7" r="4.5"/><circle cx="707.2" cy="332.0" r="4.5"/><circle cx="833.6" cy="330.2" r="4.5"/><circle cx="514.3" cy="312.6" r="4.5"/><circle cx="408.0" cy="318.8" r="4.5"/><circle cx="401.9" cy="326.9" r="4.5"/><circle cx="463.2" cy="307.9" r="4.5"/><circle cx="541.3" cy="328.2" r="4.5"/><circle cx="346.6" cy="329.1" r="4.5"/><circle cx="590.4" cy="330.7" r="4.5"/><circle cx="472.7" cy="306.5" r="4.5"/><circle cx="690.0" cy="332.0" r="4.5"/><circle cx="220.7" cy="328.0" r="4.5"/><circle cx="196.2" cy="328.1" r="4.5"/><circle cx="699.6" cy="333.4" r="4.5"/><circle cx="127.6" cy="333.6" r="4.5"/><circle cx="254.1" cy="328.5" r="4.5"/><circle cx="203.2" cy="329.3" r="4.5"/><circle cx="752.6" cy="329.2" r="4.5"/><circle cx="631.4" cy="332.9" r="4.5"/><circle cx="228.6" cy="328.3" r="4.5"/><circle cx="490.6" cy="301.1" r="4.5"/><circle cx="529.2" cy="324.1" r="4.5"/><circle cx="480.8" cy="304.3" r="4.5"/><circle cx="257.3" cy="328.4" r="4.5"/><circle cx="209.8" cy="333.0" r="4.5"/><circle cx="514.1" cy="313.1" r="4.5"/><circle cx="504.9" cy="310.0" r="4.5"/><circle cx="758.9" cy="329.6" r="4.5"/><circle cx="361.3" cy="328.7" r="4.5"/><circle cx="539.2" cy="328.1" r="4.5"/><circle cx="524.3" cy="324.1" r="4.5"/><circle cx="338.1" cy="329.9" r="4.5"/><circle cx="420.9" cy="326.2" r="4.5"/><circle cx="128.2" cy="328.7" r="4.5"/><circle cx="231.9" cy="327.2" r="4.5"/><circle cx="434.5" cy="301.5" r="4.5"/><circle cx="438.7" cy="309.5" r="4.5"/><circle cx="220.4" cy="329.1" r="4.5"/><circle cx="315.2" cy="328.8" r="4.5"/><circle cx="482.8" cy="316.3" r="4.5"/><circle cx="228.2" cy="330.9" r="4.5"/><circle cx="831.7" cy="332.5" r="4.5"/><circle cx="313.4" cy="329.0" r="4.5"/><circle cx="154.3" cy="331.3" r="4.5"/><circle cx="174.4" cy="327.9" r="4.5"/><circle cx="403.4" cy="332.5" r="4.5"/><circle cx="441.3" cy="301.9" r="4.5"/><circle cx="251.5" cy="327.5" r="4.5"/><circle cx="337.9" cy="328.7" r="4.5"/><circle cx="450.8" cy="301.3" r="4.5"/><circle cx="613.0" cy="330.0" r="4.5"/><circle cx="558.9" cy="329.6" r="4.5"/><circle cx="453.9" cy="312.2" r="4.5"/><circle cx="709.6" cy="329.9" r="4.5"/><circle cx="748.2" cy="329.6" r="4.5"/><circle cx="401.5" cy="326.2" r="4.5"/><circle cx="501.5" cy="308.2" r="4.5"/><circle cx="744.1" cy="329.8" r="4.5"/><circle cx="643.5" cy="329.2" r="4.5"/><circle cx="620.7" cy="330.3" r="4.5"/><circle cx="826.5" cy="328.4" r="4.5"/><circle cx="720.9" cy="328.9" r="4.5"/><circle cx="660.6" cy="331.2" r="4.5"/><circle cx="757.2" cy="332.6" r="4.5"/><circle cx="804.2" cy="330.8" r="4.5"/><circle cx="152.1" cy="330.0" r="4.5"/><circle cx="417.8" cy="317.2" r="4.5"/><circle cx="392.3" cy="323.1" r="4.5"/><circle cx="367.4" cy="329.3" r="4.5"/><circle cx="483.7" cy="320.1" r="4.5"/><circle cx="310.4" cy="329.2" r="4.5"/><circle cx="458.6" cy="309.7" r="4.5"/><circle cx="518.4" cy="327.8" r="4.5"/><circle cx="492.7" cy="306.1" r="4.5"/><circle cx="529.1" cy="326.4" r="4.5"/><circle cx="627.2" cy="329.9" r="4.5"/><circle cx="396.2" cy="323.2" r="4.5"/><circle cx="474.0" cy="316.2" r="4.5"/><circle cx="214.6" cy="331.3" r="4.5"/><circle cx="373.0" cy="320.6" r="4.5"/><circle cx="322.1" cy="328.2" r="4.5"/><circle cx="470.4" cy="328.7" r="4.5"/><circle cx="526.3" cy="326.2" r="4.5"/><circle cx="410.3" cy="325.7" r="4.5"/><circle cx="457.6" cy="320.0" r="4.5"/><circle cx="815.8" cy="330.9" r="4.5"/><circle cx="658.2" cy="330.5" r="4.5"/><circle cx="706.9" cy="328.7" r="4.5"/><circle cx="549.6" cy="331.3" r="4.5"/><circle cx="583.2" cy="331.3" r="4.5"/><circle cx="705.6" cy="329.4" r="4.5"/><circle cx="384.5" cy="330.2" r="4.5"/><circle cx="507.2" cy="310.2" r="4.5"/><circle cx="520.3" cy="312.8" r="4.5"/><circle cx="440.5" cy="320.4" r="4.5"/><circle cx="406.9" cy="318.3" r="4.5"/><circle cx="401.8" cy="320.0" r="4.5"/><circle cx="463.5" cy="308.1" r="4.5"/><circle cx="663.2" cy="333.3" r="4.5"/><circle cx="692.9" cy="330.7" r="4.5"/><circle cx="609.9" cy="329.9" r="4.5"/><circle cx="496.2" cy="305.6" r="4.5"/><circle cx="174.0" cy="330.9" r="4.5"/><circle cx="742.2" cy="332.9" r="4.5"/><circle cx="469.4" cy="300.1" r="4.5"/><circle cx="301.7" cy="331.4" r="4.5"/><circle cx="501.6" cy="327.2" r="4.5"/><circle cx="700.3" cy="328.9" r="4.5"/><circle cx="653.4" cy="329.5" r="4.5"/><circle cx="382.1" cy="330.0" r="4.5"/><circle cx="495.3" cy="301.4" r="4.5"/><circle cx="512.8" cy="328.8" r="4.5"/><circle cx="261.6" cy="327.0" r="4.5"/><circle cx="294.6" cy="330.4" r="4.5"/><circle cx="588.9" cy="334.3" r="4.5"/><circle cx="372.5" cy="331.3" r="4.5"/><circle cx="728.4" cy="328.9" r="4.5"/><circle cx="388.4" cy="325.2" r="4.5"/><circle cx="514.4" cy="302.6" r="4.5"/><circle cx="709.1" cy="329.7" r="4.5"/><circle cx="139.4" cy="331.2" r="4.5"/><circle cx="459.2" cy="323.7" r="4.5"/><circle cx="693.6" cy="331.7" r="4.5"/><circle cx="816.8" cy="330.9" r="4.5"/><circle cx="530.7" cy="325.5" r="4.5"/><circle cx="509.8" cy="307.1" r="4.5"/><circle cx="555.0" cy="331.1" r="4.5"/><circle cx="655.1" cy="329.6" r="4.5"/><circle cx="615.0" cy="332.3" r="4.5"/><circle cx="476.2" cy="318.2" r="4.5"/><circle cx="470.8" cy="307.4" r="4.5"/><circle cx="393.8" cy="322.6" r="4.5"/><circle cx="799.2" cy="328.5" r="4.5"/><circle cx="156.3" cy="330.4" r="4.5"/><circle cx="421.0" cy="319.1" r="4.5"/><circle cx="620.1" cy="331.1" r="4.5"/><circle cx="735.7" cy="330.8" r="4.5"/><circle cx="476.3" cy="303.8" r="4.5"/><circle cx="278.0" cy="333.8" r="4.5"/><circle cx="374.2" cy="333.1" r="4.5"/><circle cx="708.5" cy="328.7" r="4.5"/><circle cx="429.5" cy="318.0" r="4.5"/><circle cx="490.6" cy="300.2" r="4.5"/><circle cx="352.7" cy="330.6" r="4.5"/><circle cx="427.9" cy="317.7" r="4.5"/><circle cx="257.8" cy="329.4" r="4.5"/><circle cx="512.9" cy="301.5" r="4.5"/><circle cx="319.0" cy="333.3" r="4.5"/><circle cx="706.0" cy="333.3" r="4.5"/><circle cx="480.5" cy="310.1" r="4.5"/><circle cx="354.7" cy="330.9" r="4.5"/><circle cx="523.1" cy="331.4" r="4.5"/><circle cx="607.3" cy="332.4" r="4.5"/><circle cx="541.8" cy="326.2" r="4.5"/><circle cx="435.3" cy="305.5" r="4.5"/><circle cx="523.7" cy="330.8" r="4.5"/><circle cx="563.7" cy="332.6" r="4.5"/><circle cx="200.5" cy="333.2" r="4.5"/><circle cx="710.9" cy="334.3" r="4.5"/><circle cx="818.6" cy="328.8" r="4.5"/><circle cx="631.6" cy="333.1" r="4.5"/><circle cx="464.1" cy="315.5" r="4.5"/><circle cx="765.2" cy="329.2" r="4.5"/><circle cx="654.9" cy="330.0" r="4.5"/><circle cx="200.5" cy="330.4" r="4.5"/><circle cx="167.7" cy="327.9" r="4.5"/><circle cx="679.5" cy="334.0" r="4.5"/><circle cx="714.4" cy="330.8" r="4.5"/><circle cx="424.0" cy="333.8" r="4.5"/><circle cx="542.8" cy="325.9" r="4.5"/><circle cx="207.4" cy="329.1" r="4.5"/><circle cx="505.0" cy="305.8" r="4.5"/><circle cx="739.4" cy="330.0" r="4.5"/><circle cx="673.7" cy="331.9" r="4.5"/><circle cx="133.3" cy="329.2" r="4.5"/><circle cx="483.4" cy="318.2" r="4.5"/><circle cx="600.6" cy="329.5" r="4.5"/><circle cx="544.7" cy="324.7" r="4.5"/><circle cx="429.5" cy="329.0" r="4.5"/><circle cx="467.6" cy="301.0" r="4.5"/><circle cx="566.0" cy="330.9" r="4.5"/><circle cx="545.2" cy="327.7" r="4.5"/><circle cx="376.1" cy="327.0" r="4.5"/><circle cx="695.3" cy="331.1" r="4.5"/><circle cx="276.9" cy="334.3" r="4.5"/><circle cx="445.5" cy="317.1" r="4.5"/><circle cx="465.6" cy="303.2" r="4.5"/><circle cx="478.3" cy="303.7" r="4.5"/><circle cx="314.3" cy="332.9" r="4.5"/><circle cx="475.8" cy="294.1" r="4.5"/><circle cx="514.1" cy="309.0" r="4.5"/><circle cx="746.6" cy="329.9" r="4.5"/><circle cx="212.3" cy="330.6" r="4.5"/><circle cx="509.7" cy="307.5" r="4.5"/><circle cx="465.0" cy="299.4" r="4.5"/><circle cx="498.0" cy="303.5" r="4.5"/><circle cx="140.3" cy="329.4" r="4.5"/><circle cx="697.5" cy="328.9" r="4.5"/><circle cx="687.1" cy="328.6" r="4.5"/><circle cx="438.9" cy="306.6" r="4.5"/><circle cx="827.8" cy="330.0" r="4.5"/><circle cx="295.1" cy="334.6" r="4.5"/><circle cx="491.2" cy="317.8" r="4.5"/><circle cx="141.0" cy="330.5" r="4.5"/><circle cx="783.0" cy="332.9" r="4.5"/><circle cx="391.6" cy="328.5" r="4.5"/><circle cx="412.5" cy="330.6" r="4.5"/><circle cx="734.6" cy="332.2" r="4.5"/><circle cx="257.7" cy="327.5" r="4.5"/><circle cx="425.4" cy="319.7" r="4.5"/><circle cx="563.8" cy="332.4" r="4.5"/><circle cx="458.4" cy="310.2" r="4.5"/><circle cx="436.6" cy="325.8" r="4.5"/><circle cx="717.7" cy="330.1" r="4.5"/><circle cx="829.3" cy="327.2" r="4.5"/><circle cx="358.4" cy="328.8" r="4.5"/><circle cx="510.4" cy="302.6" r="4.5"/><circle cx="553.4" cy="329.6" r="4.5"/><circle cx="606.3" cy="333.4" r="4.5"/><circle cx="610.5" cy="330.1" r="4.5"/><circle cx="578.0" cy="329.9" r="4.5"/><circle cx="447.3" cy="305.8" r="4.5"/><circle cx="505.6" cy="323.0" r="4.5"/><circle cx="283.0" cy="331.4" r="4.5"/><circle cx="474.4" cy="299.9" r="4.5"/><circle cx="708.3" cy="332.0" r="4.5"/><circle cx="393.3" cy="326.4" r="4.5"/><circle cx="415.2" cy="319.9" r="4.5"/><circle cx="500.1" cy="301.9" r="4.5"/><circle cx="560.7" cy="331.0" r="4.5"/><circle cx="436.8" cy="302.8" r="4.5"/><circle cx="438.7" cy="319.8" r="4.5"/><circle cx="289.4" cy="329.1" r="4.5"/><circle cx="433.0" cy="311.0" r="4.5"/><circle cx="384.3" cy="329.2" r="4.5"/><circle cx="356.8" cy="330.7" r="4.5"/><circle cx="390.0" cy="323.5" r="4.5"/><circle cx="787.7" cy="328.3" r="4.5"/><circle cx="179.0" cy="329.7" r="4.5"/><circle cx="665.4" cy="332.6" r="4.5"/><circle cx="142.4" cy="331.3" r="4.5"/><circle cx="739.8" cy="329.5" r="4.5"/><circle cx="352.1" cy="329.7" r="4.5"/><circle cx="578.1" cy="330.4" r="4.5"/><circle cx="326.0" cy="328.1" r="4.5"/><circle cx="682.4" cy="329.6" r="4.5"/><circle cx="646.4" cy="332.2" r="4.5"/><circle cx="756.5" cy="331.9" r="4.5"/><circle cx="760.7" cy="330.5" r="4.5"/><circle cx="812.9" cy="328.8" r="4.5"/><circle cx="484.6" cy="309.3" r="4.5"/><circle cx="629.3" cy="332.0" r="4.5"/><circle cx="507.0" cy="332.0" r="4.5"/><circle cx="171.9" cy="328.6" r="4.5"/><circle cx="482.8" cy="294.6" r="4.5"/><circle cx="550.8" cy="329.1" r="4.5"/><circle cx="791.4" cy="328.9" r="4.5"/><circle cx="510.3" cy="329.3" r="4.5"/><circle cx="161.0" cy="330.5" r="4.5"/><circle cx="382.3" cy="326.1" r="4.5"/><circle cx="423.8" cy="322.7" r="4.5"/><circle cx="175.8" cy="332.5" r="4.5"/><circle cx="239.5" cy="331.4" r="4.5"/><circle cx="719.1" cy="330.7" r="4.5"/><circle cx="659.7" cy="334.3" r="4.5"/><circle cx="664.3" cy="332.4" r="4.5"/><circle cx="135.1" cy="329.1" r="4.5"/><circle cx="355.4" cy="332.5" r="4.5"/><circle cx="722.6" cy="328.8" r="4.5"/><circle cx="693.7" cy="328.8" r="4.5"/><circle cx="134.4" cy="329.1" r="4.5"/><circle cx="224.9" cy="328.7" r="4.5"/><circle cx="392.7" cy="329.9" r="4.5"/><circle cx="319.5" cy="329.2" r="4.5"/><circle cx="253.1" cy="327.2" r="4.5"/><circle cx="136.2" cy="329.1" r="4.5"/><circle cx="505.3" cy="311.4" r="4.5"/><circle cx="488.6" cy="300.1" r="4.5"/><circle cx="561.4" cy="330.2" r="4.5"/><circle cx="796.5" cy="328.6" r="4.5"/><circle cx="283.8" cy="328.7" r="4.5"/><circle cx="817.7" cy="329.2" r="4.5"/><circle cx="803.3" cy="331.0" r="4.5"/><circle cx="831.0" cy="332.7" r="4.5"/><circle cx="540.5" cy="325.2" r="4.5"/><circle cx="530.9" cy="324.3" r="4.5"/><circle cx="448.5" cy="325.1" r="4.5"/><circle cx="527.6" cy="332.2" r="4.5"/><circle cx="607.1" cy="332.0" r="4.5"/><circle cx="230.1" cy="330.7" r="4.5"/><circle cx="664.5" cy="333.2" r="4.5"/><circle cx="394.1" cy="325.7" r="4.5"/><circle cx="363.3" cy="329.7" r="4.5"/><circle cx="615.4" cy="328.9" r="4.5"/><circle cx="684.8" cy="328.9" r="4.5"/><circle cx="462.5" cy="324.2" r="4.5"/><circle cx="426.4" cy="321.1" r="4.5"/><circle cx="309.7" cy="328.9" r="4.5"/><circle cx="732.8" cy="331.1" r="4.5"/><circle cx="495.2" cy="320.2" r="4.5"/><circle cx="428.0" cy="323.6" r="4.5"/><circle cx="426.2" cy="323.7" r="4.5"/><circle cx="293.3" cy="331.3" r="4.5"/><circle cx="206.3" cy="330.9" r="4.5"/><circle cx="144.2" cy="330.9" r="4.5"/><circle cx="528.8" cy="327.3" r="4.5"/><circle cx="176.7" cy="328.8" r="4.5"/><circle cx="435.8" cy="305.9" r="4.5"/><circle cx="315.0" cy="329.3" r="4.5"/><circle cx="560.0" cy="329.5" r="4.5"/><circle cx="462.8" cy="314.1" r="4.5"/><circle cx="480.8" cy="302.3" r="4.5"/></g>
<g fill="#0000f0" fill-opacity=".55" stroke="#0000c8" stroke-opacity=".7" stroke-width="1"><circle cx="472.2" cy="260.8" r="4.5"/><circle cx="470.7" cy="273.0" r="4.5"/><circle cx="478.7" cy="256.4" r="4.5"/><circle cx="487.4" cy="266.0" r="4.5"/><circle cx="487.5" cy="278.0" r="4.5"/><circle cx="476.0" cy="262.0" r="4.5"/><circle cx="481.0" cy="252.0" r="4.5"/><circle cx="484.0" cy="259.0" r="4.5"/><circle cx="479.0" cy="266.0" r="4.5"/><circle cx="483.0" cy="270.0" r="4.5"/><circle cx="477.0" cy="276.0" r="4.5"/><circle cx="481.0" cy="281.0" r="4.5"/><circle cx="479.0" cy="286.0" r="4.5"/><circle cx="483.0" cy="290.0" r="4.5"/><circle cx="478.0" cy="293.0" r="4.5"/><circle cx="485.0" cy="297.0" r="4.5"/><circle cx="476.5" cy="296.0" r="4.5"/><circle cx="487.5" cy="294.0" r="4.5"/><circle cx="480.0" cy="249.0" r="4.5"/><circle cx="476.0" cy="254.0" r="4.5"/><circle cx="486.0" cy="262.0" r="4.5"/><circle cx="472.0" cy="266.0" r="4.5"/><circle cx="482.0" cy="262.0" r="4.5"/><circle cx="480.0" cy="272.0" r="4.5"/><circle cx="484.0" cy="283.0" r="4.5"/><circle cx="477.0" cy="283.0" r="4.5"/><circle cx="480.0" cy="290.0" r="4.5"/><circle cx="486.0" cy="288.0" r="4.5"/><circle cx="476.5" cy="290.0" r="4.5"/><circle cx="474.0" cy="258.0" r="4.5"/><circle cx="477.0" cy="268.0" r="4.5"/><circle cx="485.0" cy="274.0" r="4.5"/><circle cx="481.0" cy="277.0" r="4.5"/><circle cx="478.0" cy="280.0" r="4.5"/><circle cx="483.0" cy="286.0" r="4.5"/><circle cx="476.5" cy="287.0" r="4.5"/><circle cx="472.2" cy="260.6" r="4.5"/><circle cx="472.1" cy="273.5" r="4.5"/><circle cx="480.1" cy="258.0" r="4.5"/><circle cx="486.4" cy="267.1" r="4.5"/><circle cx="487.5" cy="278.4" r="4.5"/><circle cx="476.2" cy="263.0" r="4.5"/><circle cx="480.4" cy="252.7" r="4.5"/><circle cx="483.6" cy="260.1" r="4.5"/><circle cx="479.0" cy="266.6" r="4.5"/><circle cx="484.5" cy="269.1" r="4.5"/><circle cx="476.5" cy="277.6" r="4.5"/><circle cx="481.1" cy="281.6" r="4.5"/><circle cx="480.0" cy="287.6" r="4.5"/><circle cx="482.7" cy="291.9" r="4.5"/><circle cx="477.7" cy="293.9" r="4.5"/><circle cx="486.0" cy="296.5" r="4.5"/><circle cx="476.5" cy="295.5" r="4.5"/><circle cx="487.5" cy="293.6" r="4.5"/><circle cx="481.0" cy="247.2" r="4.5"/><circle cx="477.5" cy="255.2" r="4.5"/><circle cx="486.2" cy="262.6" r="4.5"/><circle cx="471.4" cy="267.1" r="4.5"/><circle cx="483.1" cy="261.5" r="4.5"/><circle cx="480.0" cy="270.9" r="4.5"/><circle cx="483.3" cy="284.4" r="4.5"/><circle cx="477.4" cy="282.8" r="4.5"/><circle cx="480.4" cy="288.7" r="4.5"/><circle cx="484.5" cy="287.4" r="4.5"/><circle cx="476.5" cy="288.7" r="4.5"/><circle cx="474.1" cy="257.3" r="4.5"/><circle cx="476.3" cy="269.0" r="4.5"/><circle cx="484.6" cy="275.0" r="4.5"/><circle cx="481.7" cy="276.5" r="4.5"/><circle cx="476.6" cy="281.4" r="4.5"/><circle cx="483.2" cy="286.3" r="4.5"/><circle cx="476.6" cy="287.2" r="4.5"/><circle cx="472.3" cy="270.5" r="4.5"/><circle cx="489.3" cy="266.6" r="4.5"/><circle cx="487.5" cy="280.0" r="4.5"/><circle cx="480.6" cy="266.5" r="4.5"/><circle cx="481.0" cy="270.6" r="4.5"/><circle cx="476.6" cy="276.4" r="4.5"/><circle cx="482.3" cy="279.2" r="4.5"/><circle cx="480.4" cy="285.1" r="4.5"/><circle cx="482.0" cy="287.7" r="4.5"/><circle cx="476.5" cy="291.8" r="4.5"/><circle cx="485.1" cy="299.2" r="4.5"/><circle cx="476.5" cy="294.9" r="4.5"/><circle cx="487.5" cy="294.7" r="4.5"/><circle cx="471.4" cy="266.8" r="4.5"/><circle cx="478.6" cy="269.7" r="4.5"/><circle cx="484.3" cy="284.1" r="4.5"/><circle cx="476.5" cy="280.7" r="4.5"/><circle cx="480.7" cy="287.8" r="4.5"/><circle cx="487.5" cy="289.0" r="4.5"/><circle cx="476.5" cy="289.5" r="4.5"/><circle cx="475.2" cy="265.9" r="4.5"/><circle cx="484.4" cy="275.9" r="4.5"/><circle cx="482.6" cy="278.3" r="4.5"/><circle cx="478.5" cy="280.4" r="4.5"/><circle cx="483.0" cy="286.8" r="4.5"/><circle cx="476.5" cy="286.5" r="4.5"/></g>
<circle cx="473.6" cy="284" r="4.4" fill="#e468c4" fill-opacity=".8" stroke="#c040b0" stroke-opacity=".7"/><circle cx="478.5" cy="284.5" r="4.5" fill="#0000f0" fill-opacity=".7"/>
<circle cx="482" cy="273" r="4.6" fill="#d0207a" fill-opacity=".85" stroke="#b01870" stroke-opacity=".8"/>
<circle cx="480" cy="267" r="4.5" fill="#c03090" fill-opacity=".6"/>
<circle cx="480.5" cy="242" r="4.6" fill="#8010c0" fill-opacity=".9" stroke="#6000b0"/>
<circle cx="481.5" cy="243" r="3" fill="#d01040" fill-opacity=".8"/>
<path d="M90.3 309.5H871.5" stroke="#505050" stroke-width="2.2" stroke-dasharray="9.75 9.75" opacity=".4"/>
<path d="M480.5 228.6V338" stroke="#f03030" stroke-width="1.2" stroke-dasharray="4.8 4.6"/>
</g>
<text class="an" x="198" y="313.4">P&lt;5e-08</text>
<path d="M480.5 230.2L492.3 242.0L480.5 253.8L468.7 242.0Z" fill="none" stroke="#ff0000" stroke-width="1.7" opacity="1" stroke-linejoin="miter"/>
<path d="M480.5 230.4V253.6" stroke="#ff0000" stroke-width="1.2" opacity=".85"/><path d="M469.0 242h4M492.0 242h-4" stroke="#ff0000" stroke-width="1.1" opacity=".7"/>
<path d="M83.89999999999999 333.3h6.4" stroke="#000" stroke-width="2.1"/>
<text class="tk" x="78.6" y="340.5" text-anchor="end">0</text>
<path d="M83.89999999999999 300.3h6.4" stroke="#000" stroke-width="2.1"/>
<text class="tk" x="78.6" y="307.5" text-anchor="end">10</text>
<path d="M83.89999999999999 267.3h6.4" stroke="#000" stroke-width="2.1"/>
<text class="tk" x="78.6" y="274.5" text-anchor="end">20</text>
<path d="M83.89999999999999 234.3h6.4" stroke="#000" stroke-width="2.1"/>
<text class="tk" x="78.6" y="241.5" text-anchor="end">30</text>
<rect x="871.9" y="229.6" width="80" height="107.6" fill="#fff" stroke="#000" stroke-width="2.3"/>
<path d="M952.4 228.5V338.3" stroke="#000" stroke-width="4.6"/>
<text class="st" x="911.5" y="290.4">GWAS</text>
<path d="M90.3 344.9V401.4" stroke="#000" stroke-width="2.3"/>
<path d="M90.3 399.1H871.5" stroke="#000" stroke-width="1.7"/>
<path d="M83.89999999999999 399.1h6.4" stroke="#000" stroke-width="2.1"/>
<text class="tk" x="79.5" y="406.3" text-anchor="end">0.0</text>
<path d="M83.89999999999999 376.5h6.4" stroke="#000" stroke-width="2.1"/>
<text class="tk" x="79.5" y="383.7" text-anchor="end">0.5</text>
<path d="M83.89999999999999 353.9h6.4" stroke="#000" stroke-width="2.1"/>
<text class="tk" x="79.5" y="361.1" text-anchor="end">1.0</text>
<rect x="871.8" y="346.0" width="184.8" height="54.4" fill="#fff" stroke="#000" stroke-width="2.2"/>
<text class="st" x="964" y="380.8">ABF</text>
<clipPath id="cp0"><rect x="90.3" y="344.9" width="781.2" height="56.7"/></clipPath>
<g clip-path="url(#cp0)">
<path d="M90.3 356.2H871.5" stroke="#808080" stroke-width="2.2" stroke-dasharray="9.75 9.75"/>
<text class="an" x="151.3" y="359.2" style="font-size:19.3px">PP &gt;= 0.95</text>
<path d="M125.8 398.6H835.4" stroke="#0000ee" stroke-width="11" stroke-linecap="round"/>
<path d="M480.5 345.2V401.6" stroke="#f03030" stroke-width="1.2" stroke-dasharray="4.8 4.6"/>
<path d="M480.5 362.2L499.8 381.5L480.5 400.8L461.2 381.5Z" fill="none" stroke="#ff0000" stroke-width="1.6" opacity="1" stroke-linejoin="miter"/>
<rect x="426.6" y="361.4" width="107.5" height="29.6" rx="3.8" fill="#000" fill-opacity=".75" stroke="#fff" stroke-width=".8"/><text class="rl" x="480.4" y="383.1">rs4698412</text>
<path d="M480.5 368.8L491.7 380.0L480.5 391.2L469.3 380.0Z" fill="#ff0000" stroke="#ff0000" stroke-width="1.2" opacity="1" stroke-linejoin="miter"/>
<path d="M480.5 373.5L487.0 380.0L480.5 386.5L474.0 380.0Z" fill="none" stroke="#b00000" stroke-width="1" opacity="0.55" stroke-linejoin="miter"/>
<path d="M480.5 390V400.5" stroke="#ff0000" stroke-width="1.3"/>
</g>
<path d="M90.3 414.4V470.9" stroke="#000" stroke-width="2.3"/>
<path d="M90.3 468.6H871.5" stroke="#000" stroke-width="1.7"/>
<path d="M83.89999999999999 468.6h6.4" stroke="#000" stroke-width="2.1"/>
<text class="tk" x="79.5" y="475.8" text-anchor="end">0.0</text>
<path d="M83.89999999999999 446.0h6.4" stroke="#000" stroke-width="2.1"/>
<text class="tk" x="79.5" y="453.2" text-anchor="end">0.5</text>
<path d="M83.89999999999999 423.4h6.4" stroke="#000" stroke-width="2.1"/>
<text class="tk" x="79.5" y="430.6" text-anchor="end">1.0</text>
<rect x="871.8" y="415.5" width="184.8" height="54.4" fill="#fff" stroke="#000" stroke-width="2.2"/>
<text class="st" x="964" y="450.3">FINEMAP</text>
<clipPath id="cp1"><rect x="90.3" y="414.4" width="781.2" height="56.7"/></clipPath>
<g clip-path="url(#cp1)">
<path d="M90.3 425.7H871.5" stroke="#808080" stroke-width="2.2" stroke-dasharray="9.75 9.75"/>
<path d="M125.8 468.1H835.4" stroke="#0000ee" stroke-width="11" stroke-linecap="round"/>
<path d="M263.5 427.9L342 425.2L458 420.8V427.4L342 428.8L263.5 429.7Z" fill="#4ad24a" fill-opacity=".8"/>
<path d="M497 421.4L674 422.3V423.3L632 424.2L741 427.4L792 429.2V430.2L741 431L634 430.4L632 426.4L497 426.6Z" fill="#46d246" fill-opacity=".85"/>
<path d="M497 421.6L632 422.6V426.4L497 426.4Z" fill="#34cc34" fill-opacity=".9"/>
<path d="M497 426.6L537 430" stroke="#f7d486" stroke-width="2.6" fill="none"/>
<path d="M340 425.7H640" stroke="#2c7a2c" stroke-width="2" stroke-dasharray="9.75 9.75" stroke-dashoffset="15.7" opacity=".6"/>
<path d="M480.5 414.6V471.2" stroke="#f03030" stroke-width="1.2" stroke-dasharray="4.8 4.6"/>
<circle cx="468.7" cy="425.09999999999997" r="11.6" fill="#22c31e"/>
<circle cx="473" cy="425.09999999999997" r="11.6" fill="#22c31e"/>
<path d="M480.5 405.8L498.1 423.4L480.5 441.0L462.9 423.4Z" fill="#22c31e" stroke="#22c31e" stroke-width="1" opacity="1" stroke-linejoin="miter"/>
<circle cx="468.4" cy="423.7" r="8.8" fill="#ffd800"/>
<circle cx="468.8" cy="423.59999999999997" r="6.8" fill="#ff5a00"/>
<circle cx="469.4" cy="423.4" r="5.6" fill="#e81818"/>
<circle cx="468" cy="423.4" r="4.4" fill="#0808e8"/>
<circle cx="472.7" cy="423.4" r="3.7" fill="#f0203c" stroke="#a020c0" stroke-width=".8"/>
<path d="M480.5 404.9L499.0 423.4L480.5 441.9L462.0 423.4Z" fill="none" stroke="#d81400" stroke-width="1.5" opacity="0.9" stroke-linejoin="miter"/>
<path d="M480.5 411.8L492.1 423.4L480.5 435.0L468.9 423.4Z" fill="none" stroke="#e81c08" stroke-width="1.9" opacity="0.95" stroke-linejoin="miter"/>
<path d="M480.5 416.1L487.8 423.4L480.5 430.7L473.2 423.4Z" fill="#ff0000" stroke="#ff0000" stroke-width="1" opacity="1" stroke-linejoin="miter"/>
<path d="M480.5 430.4V441.9M480.5 416.4V411.79999999999995" stroke="#f01000" stroke-width="1.4"/>
<rect x="199.4" y="431.3" width="107.0" height="28.8" rx="3.8" fill="#000" fill-opacity=".75" stroke="#fff" stroke-width=".8"/><text class="rl" x="252.9" y="452.6">rs3756246</text>
<rect x="340.8" y="424.8" width="118.4" height="29.2" rx="3.8" fill="#000" fill-opacity=".75" stroke="#fff" stroke-width=".8"/><text class="rl" x="400.0" y="446.3">rs35519415</text>
<rect x="493.1" y="431.3" width="107.5" height="28.8" rx="3.8" fill="#000" fill-opacity=".75" stroke="#fff" stroke-width=".8"/><text class="rl" x="546.9" y="452.6">rs4541502</text>
<rect x="633.6" y="424.8" width="107.7" height="29.2" rx="3.8" fill="#000" fill-opacity=".75" stroke="#fff" stroke-width=".8"/><text class="rl" x="687.5" y="446.3">rs4698412</text>
<rect x="746.3" y="431.3" width="106.9" height="28.8" rx="3.8" fill="#000" fill-opacity=".75" stroke="#fff" stroke-width=".8"/><text class="rl" x="799.8" y="452.6">rs6852450</text>
</g>
<path d="M90.3 483.9V540.4" stroke="#000" stroke-width="2.3"/>
<path d="M90.3 538.1H871.5" stroke="#000" stroke-width="1.7"/>
<path d="M83.89999999999999 538.1h6.4" stroke="#000" stroke-width="2.1"/>
<text class="tk" x="79.5" y="545.3" text-anchor="end">0.0</text>
<path d="M83.89999999999999 515.5h6.4" stroke="#000" stroke-width="2.1"/>
<text class="tk" x="79.5" y="522.7" text-anchor="end">0.5</text>
<path d="M83.89999999999999 492.9h6.4" stroke="#000" stroke-width="2.1"/>
<text class="tk" x="79.5" y="500.1" text-anchor="end">1.0</text>
<rect x="871.8" y="485.0" width="184.8" height="54.4" fill="#fff" stroke="#000" stroke-width="2.2"/>
<text class="st" x="964" y="519.8">POLYFUN_SUSIE</text>
<clipPath id="cp2"><rect x="90.3" y="483.9" width="781.2" height="56.7"/></clipPath>
<g clip-path="url(#cp2)">
<path d="M125.8 537.6H835.4" stroke="#0000ee" stroke-width="11" stroke-linecap="round"/>
<path d="M169.7 492.5L300 492.0L460 491.7V497.6H375L300 496.4L225 494.6L169.7 493.7Z" fill="#ffe196"/>
<path d="M300 500.0L375 498.3L462 496.0" stroke="#ffe4a8" stroke-width="1.8" fill="none"/>
<path d="M90.3 495.2H871.5" stroke="#808080" stroke-width="2.2" stroke-dasharray="9.75 9.75"/>
<path d="M169.7 495.2H460" stroke="#b9a477" stroke-width="2.2" stroke-dasharray="9.75 9.75" stroke-dashoffset="1.4"/>
<circle cx="479.4" cy="493.40000000000003" r="11.7" fill="#1fb41f"/><circle cx="479.2" cy="493.40000000000003" r="8.7" fill="#ffb914"/>
<circle cx="471.2" cy="493.40000000000003" r="11.7" fill="#1fb41f"/><circle cx="471.4" cy="493.40000000000003" r="9.2" fill="#ffb914"/>
<circle cx="471.6" cy="493.40000000000003" r="4.7" fill="#0a0ae6"/><circle cx="477.6" cy="493.40000000000003" r="4.7" fill="#0a0ae6"/>
<path d="M480.5 520.6L498.5 538.6L480.5 556.6L462.5 538.6Z" fill="none" stroke="#ff0000" stroke-width="1.5" opacity="1" stroke-linejoin="miter"/>
<path d="M480.9 504.40000000000003V521.1" stroke="#e01818" stroke-width="1.4"/>
<path d="M498 538.1L560 531.1" stroke="#f03030" stroke-width="1.3"/>
<rect x="106.7" y="494.8" width="107.7" height="28.8" rx="3.8" fill="#000" fill-opacity=".75" stroke="#fff" stroke-width=".8"/><text class="rl" x="160.6" y="516.1">rs4541502</text>
<rect x="227.6" y="500.6" width="118.6" height="29.2" rx="3.8" fill="#000" fill-opacity=".75" stroke="#fff" stroke-width=".8"/><text class="rl" x="286.9" y="522.1">rs34559912</text>
<rect x="374.6" y="500.6" width="107.8" height="29.1" rx="3.8" fill="#000" fill-opacity=".75" stroke="#fff" stroke-width=".8"/><text class="rl" x="428.5" y="522.0">rs4389574</text>
<rect x="515.9" y="500.8" width="108.2" height="28.9" rx="3.8" fill="#000" fill-opacity=".75" stroke="#fff" stroke-width=".8"/><text class="rl" x="570.0" y="522.1">rs4698412</text>
<path d="M480.5 529.6L489.5 538.6L480.5 547.6L471.5 538.6Z" fill="none" stroke="#ff0000" stroke-width="1.4" opacity="1" stroke-linejoin="miter"/>
<path d="M480.5 534.1L485.0 538.6L480.5 543.1L476.0 538.6Z" fill="none" stroke="#ff0000" stroke-width="1.2" opacity="1" stroke-linejoin="miter"/>
<path d="M471.5 534.1L476.0 538.6L471.5 543.1L467.0 538.6Z" fill="none" stroke="#ff0000" stroke-width="1.2" opacity="1" stroke-linejoin="miter"/>
<path d="M489.5 534.1L494.0 538.6L489.5 543.1L485.0 538.6Z" fill="none" stroke="#ff0000" stroke-width="1.2" opacity="1" stroke-linejoin="miter"/>
<path d="M480.5 520.1V540.1" stroke="#ff0000" stroke-width="1.3"/>
</g>
<path d="M90.3 553.4V609.9" stroke="#000" stroke-width="2.3"/>
<path d="M90.3 607.6H871.5" stroke="#000" stroke-width="1.7"/>
<path d="M83.89999999999999 607.6h6.4" stroke="#000" stroke-width="2.1"/>
<text class="tk" x="79.5" y="614.8" text-anchor="end">0.0</text>
<path d="M83.89999999999999 585.0h6.4" stroke="#000" stroke-width="2.1"/>
<text class="tk" x="79.5" y="592.2" text-anchor="end">0.5</text>
<path d="M83.89999999999999 562.4h6.4" stroke="#000" stroke-width="2.1"/>
<text class="tk" x="79.5" y="569.6" text-anchor="end">1.0</text>
<rect x="871.8" y="554.5" width="184.8" height="54.4" fill="#fff" stroke="#000" stroke-width="2.2"/>
<text class="st" x="964" y="589.3">SUSIE</text>
<clipPath id="cp3"><rect x="90.3" y="553.4" width="781.2" height="56.7"/></clipPath>
<g clip-path="url(#cp3)">
<path d="M125.8 607.1H835.4" stroke="#0000ee" stroke-width="11" stroke-linecap="round"/>
<path d="M169.7 562.0L300 561.5L460 561.2V567.1H375L300 565.9L225 564.1L169.7 563.2Z" fill="#ffe196"/>
<path d="M300 569.5L375 567.8L462 565.5" stroke="#ffe4a8" stroke-width="1.8" fill="none"/>
<path d="M90.3 564.7H871.5" stroke="#808080" stroke-width="2.2" stroke-dasharray="9.75 9.75"/>
<path d="M169.7 564.7H460" stroke="#b9a477" stroke-width="2.2" stroke-dasharray="9.75 9.75" stroke-dashoffset="1.4"/>
<circle cx="479.4" cy="562.9" r="11.7" fill="#1fb41f"/><circle cx="479.2" cy="562.9" r="8.7" fill="#ffb914"/>
<circle cx="471.2" cy="562.9" r="11.7" fill="#1fb41f"/><circle cx="471.4" cy="562.9" r="9.2" fill="#ffb914"/>
<circle cx="471.6" cy="562.9" r="4.7" fill="#0a0ae6"/><circle cx="477.6" cy="562.9" r="4.7" fill="#0a0ae6"/>
<path d="M480.5 590.1L498.5 608.1L480.5 626.1L462.5 608.1Z" fill="none" stroke="#ff0000" stroke-width="1.5" opacity="1" stroke-linejoin="miter"/>
<path d="M480.9 573.9V590.6" stroke="#e01818" stroke-width="1.4"/>
<path d="M498 607.6L560 600.6" stroke="#f03030" stroke-width="1.3"/>
<rect x="106.7" y="564.3" width="107.7" height="28.8" rx="3.8" fill="#000" fill-opacity=".75" stroke="#fff" stroke-width=".8"/><text class="rl" x="160.6" y="585.6">rs4541502</text>
<rect x="227.6" y="570.1" width="118.6" height="29.2" rx="3.8" fill="#000" fill-opacity=".75" stroke="#fff" stroke-width=".8"/><text class="rl" x="286.9" y="591.6">rs34559912</text>
<rect x="374.6" y="570.1" width="107.8" height="29.1" rx="3.8" fill="#000" fill-opacity=".75" stroke="#fff" stroke-width=".8"/><text class="rl" x="428.5" y="591.5">rs4389574</text>
<rect x="515.9" y="570.3" width="108.2" height="28.9" rx="3.8" fill="#000" fill-opacity=".75" stroke="#fff" stroke-width=".8"/><text class="rl" x="570.0" y="591.6">rs4698412</text>
<path d="M480.5 599.1L489.5 608.1L480.5 617.1L471.5 608.1Z" fill="none" stroke="#ff0000" stroke-width="1.4" opacity="1" stroke-linejoin="miter"/>
<path d="M480.5 603.6L485.0 608.1L480.5 612.6L476.0 608.1Z" fill="none" stroke="#ff0000" stroke-width="1.2" opacity="1" stroke-linejoin="miter"/>
<path d="M471.5 603.6L476.0 608.1L471.5 612.6L467.0 608.1Z" fill="none" stroke="#ff0000" stroke-width="1.2" opacity="1" stroke-linejoin="miter"/>
<path d="M489.5 603.6L494.0 608.1L489.5 612.6L485.0 608.1Z" fill="none" stroke="#ff0000" stroke-width="1.2" opacity="1" stroke-linejoin="miter"/>
<path d="M480.5 589.6V609.6" stroke="#ff0000" stroke-width="1.3"/>
</g>
<path d="M90.3 622.9V679.4" stroke="#000" stroke-width="2.3"/>
<path d="M90.3 677.1H871.5" stroke="#000" stroke-width="1.7"/>
<path d="M83.89999999999999 677.1h6.4" stroke="#000" stroke-width="2.1"/>
<text class="tk" x="79.5" y="684.3" text-anchor="end">0.0</text>
<path d="M83.89999999999999 654.5h6.4" stroke="#000" stroke-width="2.1"/>
<text class="tk" x="79.5" y="661.7" text-anchor="end">0.5</text>
<path d="M83.89999999999999 631.9h6.4" stroke="#000" stroke-width="2.1"/>
<text class="tk" x="79.5" y="639.1" text-anchor="end">1.0</text>
<rect x="871.8" y="624.0" width="184.8" height="54.4" fill="#fff" stroke="#000" stroke-width="2.2"/>
<text class="st" x="964" y="658.8">mean</text>
<clipPath id="cp4"><rect x="90.3" y="622.9" width="781.2" height="56.7"/></clipPath>
<g clip-path="url(#cp4)">
<path d="M90.3 634.2H871.5" stroke="#808080" stroke-width="2.2" stroke-dasharray="9.75 9.75"/>
<path d="M125.8 676.6H835.4" stroke="#0000ee" stroke-width="11" stroke-linecap="round"/>
<path d="M480.5 627.4V679" stroke="#f03030" stroke-width="1.2" stroke-dasharray="4.8 4.6"/>
<circle cx="471.6" cy="642.8" r="7.6" fill="none" stroke="#ffb914" stroke-width="5.2"/>
<circle cx="475.5" cy="654" r="7.6" fill="none" stroke="#ffb914" stroke-width="4.6"/>
<circle cx="471.6" cy="642.8" r="4.6" fill="#0a0ae6"/>
<circle cx="476.8" cy="653.7" r="4.4" fill="#2a14d8"/>
<ellipse cx="469.5" cy="666" rx="5.6" ry="4" transform="rotate(35 469.5 666)" fill="#4a3af0" fill-opacity=".85"/>
<rect x="106.7" y="633.8" width="107.7" height="29.0" rx="3.8" fill="#000" fill-opacity=".75" stroke="#fff" stroke-width=".8"/>
<rect x="246.9" y="633.8" width="107.8" height="29.0" rx="3.8" fill="#000" fill-opacity=".75" stroke="#fff" stroke-width=".8"/>
<rect x="338.9" y="633.8" width="119.5" height="29.0" rx="3.8" fill="#000" fill-opacity=".75" stroke="#fff" stroke-width=".8"/>
<rect x="500.9" y="639.6" width="107.5" height="29.1" rx="3.8" fill="#000" fill-opacity=".75" stroke="#fff" stroke-width=".8"/>
<path d="M214 648.5L340 645.8L464 643.2" stroke="#ffb420" stroke-opacity=".55" stroke-width="3.6" fill="none"/>
<path d="M356 652.3L469 652.9" stroke="#ffb420" stroke-opacity=".55" stroke-width="3.4" fill="none"/>
<text class="rl" x="160.6" y="655.2">rs4541502</text>
<text class="rl" x="300.8" y="655.2">rs4389574</text>
<text class="rl" x="398.6" y="655.2">rs34559912</text>
<text class="rl" x="554.6" y="661.0">rs4698412</text>
<path d="M480.5 642.8L498.9 661.2L480.5 679.6L462.1 661.2Z" fill="none" stroke="#ff0000" stroke-width="1.6" opacity="1" stroke-linejoin="miter"/>
<path d="M480.5 649.2L492.5 661.2L480.5 673.2L468.5 661.2Z" fill="none" stroke="#ff0000" stroke-width="1.4" opacity="1" stroke-linejoin="miter"/>
<path d="M480.5 655.2L486.5 661.2L480.5 667.2L474.5 661.2Z" fill="none" stroke="#ff0000" stroke-width="1.2" opacity="1" stroke-linejoin="miter"/>
<path d="M462.5 661.2H498.5M480.5 643.2V679.2" stroke="#ff0000" stroke-width="1.3"/>
<path d="M471.5 652.2L489.5 670.2M489.5 652.2L471.5 670.2" stroke="#ff0000" stroke-width="1" opacity=".3"/>
</g>
<path d="M89.2 679.4H871.5" stroke="#000" stroke-width="3"/>
<path d="M218.6 679v6M396.2 679v6M573.8 679v6M751.4 679v6" stroke="#000" stroke-width="1.7"/>
<text class="tk" x="218.6" y="702.5" text-anchor="middle">15</text>
<text class="tk" x="396.2" y="702.5" text-anchor="middle">15.5</text>
<text class="tk" x="573.8" y="702.5" text-anchor="middle">16</text>
<text class="tk" x="751.4" y="702.5" text-anchor="middle">16.5</text>
<path d="M480.5 55V220.2" stroke="#f03030" stroke-width="1.2" stroke-dasharray="4.8 4.6"/>
<text x="1095" y="189" font-size="25" fill="#000">r<tspan font-size="16.5" dy="-7.2">2</tspan></text>
<rect x="1094.8" y="207.2" width="39.9" height="137" fill="url(#lg)"/>
<path d="M1094.8 305.1h8M1134.7 305.1h-8M1094.8 207.6h8M1134.7 207.6h-8" stroke="#fff" stroke-width="1"/>
<text x="1146" y="213.8" font-size="20" fill="#000">1.0</text>
<text x="1146" y="312.2" font-size="20" fill="#000">0.5</text>
</svg></body></html>
